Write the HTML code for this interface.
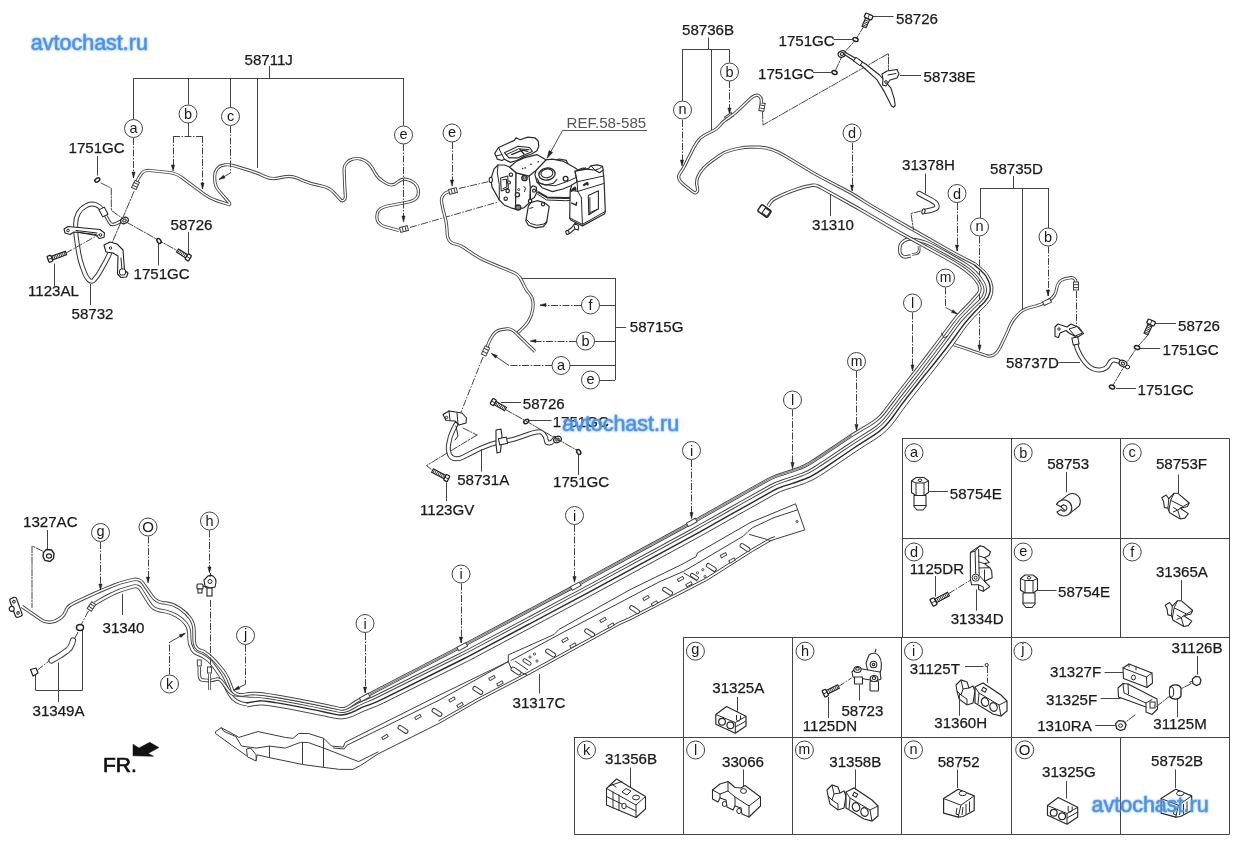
<!DOCTYPE html>
<html><head><meta charset="utf-8"><title>diagram</title>
<style>
html,body{margin:0;padding:0;background:#fff;}
body{width:1240px;height:848px;overflow:hidden;font-family:"Liberation Sans",sans-serif;}
svg{display:block;font-family:"Liberation Sans",sans-serif;}
.wm{fill:#4a8edc;font-size:21.5px;}
</style></head><body>
<svg width="1240" height="848" viewBox="0 0 1240 848">
<defs><filter id="gl" x="-10%" y="-30%" width="120%" height="160%"><feGaussianBlur stdDeviation="1.2"/></filter></defs>
<rect width="1240" height="848" fill="#fff"/>
<g style="will-change:transform">
<line x1="902" y1="438.5" x2="1229.5" y2="438.5" stroke="#444" stroke-width="1" />
<line x1="902" y1="538.5" x2="1229.5" y2="538.5" stroke="#444" stroke-width="1" />
<line x1="902" y1="637.5" x2="1229.5" y2="637.5" stroke="#444" stroke-width="1" />
<line x1="683" y1="637.5" x2="902" y2="637.5" stroke="#444" stroke-width="1" />
<line x1="574" y1="737.5" x2="1229.5" y2="737.5" stroke="#444" stroke-width="1" />
<line x1="574" y1="834.5" x2="1229.5" y2="834.5" stroke="#444" stroke-width="1" />
<line x1="902.5" y1="438.5" x2="902.5" y2="637.5" stroke="#444" stroke-width="1" />
<line x1="1011.5" y1="438.5" x2="1011.5" y2="834.5" stroke="#444" stroke-width="1" />
<line x1="1120.5" y1="438.5" x2="1120.5" y2="637.5" stroke="#444" stroke-width="1" />
<line x1="1120.5" y1="737" x2="1120.5" y2="834.5" stroke="#444" stroke-width="1" />
<line x1="1229.5" y1="438.5" x2="1229.5" y2="834.5" stroke="#444" stroke-width="1" />
<line x1="683.5" y1="637.5" x2="683.5" y2="834.5" stroke="#444" stroke-width="1" />
<line x1="792.5" y1="637.5" x2="792.5" y2="834.5" stroke="#444" stroke-width="1" />
<line x1="901.5" y1="637.5" x2="901.5" y2="834.5" stroke="#444" stroke-width="1" />
<line x1="574.5" y1="737" x2="574.5" y2="834.5" stroke="#444" stroke-width="1" />
<line x1="133.5" y1="78.5" x2="403.5" y2="78.5" stroke="#444" stroke-width="1" />
<line x1="269.5" y1="66" x2="269.5" y2="78" stroke="#444" stroke-width="1" />
<line x1="133.5" y1="78" x2="133.5" y2="119" stroke="#444" stroke-width="1" />
<line x1="188.5" y1="78" x2="188.5" y2="104.5" stroke="#444" stroke-width="1" />
<line x1="230.5" y1="78" x2="230.5" y2="107.5" stroke="#444" stroke-width="1" />
<line x1="257.5" y1="78" x2="257.5" y2="168" stroke="#444" stroke-width="1" />
<line x1="403.5" y1="78" x2="403.5" y2="125.5" stroke="#444" stroke-width="1" />
<path d="M136.5 183.0 L137.4 180.5 Q138.4 178.0 140.0 175.8 L142.0 173.0 Q143.3 171.2 145.5 170.8 L145.5 170.8 Q147.7 170.3 149.9 170.5 L169.0 172.5 Q176.0 173.2 181.6 177.4 L204.3 194.3 Q209.9 198.5 216.6 200.6 L228.8 204.5 Q229.4 204.7 229.6 204.1 L229.6 204.1 Q229.8 203.4 229.4 202.9 L219.3 191.3 Q214.7 186.0 214.7 179.0 L214.7 176.0 Q214.7 172.0 217.1 168.8 L217.1 168.8 Q219.6 165.6 223.6 165.1 L224.5 164.9 Q229.4 164.3 234.1 165.8 L250.8 170.9 Q257.5 173.0 263.8 176.0 L264.7 176.5 Q271.0 179.5 277.9 178.1 L284.1 176.9 Q291.0 175.5 297.5 178.2 L303.5 180.8 Q310.0 183.5 316.8 184.9 L322.6 186.2 Q329.0 187.5 333.5 192.2 L335.9 194.8 Q338.0 197.0 340.0 199.2 L340.6 199.9 Q342.0 201.5 343.8 200.2 L343.8 200.2 Q345.5 199.0 345.4 196.9 L344.9 189.0 Q344.5 182.0 344.3 175.0 L344.1 169.9 Q344.0 166.0 346.5 163.0 L346.5 163.0 Q349.0 160.0 352.8 159.1 L353.0 159.0 Q357.0 158.0 361.0 159.1 L361.7 159.3 Q366.0 160.5 369.0 163.8 L369.0 163.8 Q372.0 167.0 374.0 171.0 L374.8 172.5 Q377.5 178.0 382.8 181.2 L386.6 183.5 Q392.5 187.0 397.5 182.2 L397.6 182.1 Q402.5 177.5 408.8 180.0 L411.1 180.9 Q415.0 182.5 417.0 186.2 L417.1 186.4 Q419.0 190.0 418.2 194.0 L418.2 194.4 Q417.5 198.0 414.2 199.8 L414.2 199.8 Q411.0 201.5 407.4 202.2 L386.3 206.3 Q383.0 207.0 380.2 209.0 L380.2 209.0 Q377.5 211.0 377.1 214.4 L376.9 216.5 Q376.5 220.0 378.8 222.8 L378.8 222.8 Q381.0 225.5 384.4 226.5 L399.0 230.5" fill="none" stroke="#444" stroke-width="3.2" stroke-linejoin="round" stroke-linecap="butt"/>
<path d="M136.5 183.0 L137.4 180.5 Q138.4 178.0 140.0 175.8 L142.0 173.0 Q143.3 171.2 145.5 170.8 L145.5 170.8 Q147.7 170.3 149.9 170.5 L169.0 172.5 Q176.0 173.2 181.6 177.4 L204.3 194.3 Q209.9 198.5 216.6 200.6 L228.8 204.5 Q229.4 204.7 229.6 204.1 L229.6 204.1 Q229.8 203.4 229.4 202.9 L219.3 191.3 Q214.7 186.0 214.7 179.0 L214.7 176.0 Q214.7 172.0 217.1 168.8 L217.1 168.8 Q219.6 165.6 223.6 165.1 L224.5 164.9 Q229.4 164.3 234.1 165.8 L250.8 170.9 Q257.5 173.0 263.8 176.0 L264.7 176.5 Q271.0 179.5 277.9 178.1 L284.1 176.9 Q291.0 175.5 297.5 178.2 L303.5 180.8 Q310.0 183.5 316.8 184.9 L322.6 186.2 Q329.0 187.5 333.5 192.2 L335.9 194.8 Q338.0 197.0 340.0 199.2 L340.6 199.9 Q342.0 201.5 343.8 200.2 L343.8 200.2 Q345.5 199.0 345.4 196.9 L344.9 189.0 Q344.5 182.0 344.3 175.0 L344.1 169.9 Q344.0 166.0 346.5 163.0 L346.5 163.0 Q349.0 160.0 352.8 159.1 L353.0 159.0 Q357.0 158.0 361.0 159.1 L361.7 159.3 Q366.0 160.5 369.0 163.8 L369.0 163.8 Q372.0 167.0 374.0 171.0 L374.8 172.5 Q377.5 178.0 382.8 181.2 L386.6 183.5 Q392.5 187.0 397.5 182.2 L397.6 182.1 Q402.5 177.5 408.8 180.0 L411.1 180.9 Q415.0 182.5 417.0 186.2 L417.1 186.4 Q419.0 190.0 418.2 194.0 L418.2 194.4 Q417.5 198.0 414.2 199.8 L414.2 199.8 Q411.0 201.5 407.4 202.2 L386.3 206.3 Q383.0 207.0 380.2 209.0 L380.2 209.0 Q377.5 211.0 377.1 214.4 L376.9 216.5 Q376.5 220.0 378.8 222.8 L378.8 222.8 Q381.0 225.5 384.4 226.5 L399.0 230.5" fill="none" stroke="#fff" stroke-width="1.4" stroke-linejoin="round" stroke-linecap="butt"/>
<g transform="translate(135.5 185) rotate(-65)"><rect x="-4.0" y="-2.5" width="8" height="5" fill="#fff" stroke="#444" stroke-width="1"/><line x1="-1.3333333333333333" y1="-2.5" x2="-1.3333333333333333" y2="2.5" stroke="#444"/><line x1="1.6" y1="-2.5" x2="1.6" y2="2.5" stroke="#444"/></g>
<g transform="translate(404 229) rotate(-15)"><rect x="-4.0" y="-2.5" width="8" height="5" fill="#fff" stroke="#444" stroke-width="1"/><line x1="-1.3333333333333333" y1="-2.5" x2="-1.3333333333333333" y2="2.5" stroke="#444"/><line x1="1.6" y1="-2.5" x2="1.6" y2="2.5" stroke="#444"/></g>
<line x1="133.5" y1="138" x2="133.5" y2="178" stroke="#444" stroke-width="1" stroke-dasharray="7 1.5 1.5 1.5"/>
<polygon points="133.5,178.0 131.9,172.0 135.1,172.0" fill="#222" stroke="#222" stroke-width="0.5" stroke-linejoin="round" />
<circle cx="133.5" cy="128.5" r="9.0" fill="#fff" stroke="#444" stroke-width="1"/>
<text x="133.5" y="132.7" font-size="14.5" fill="#1a1a1a" text-anchor="middle">a</text>
<line x1="188.5" y1="123" x2="188.5" y2="136" stroke="#444" stroke-width="1" />
<line x1="173" y1="136.5" x2="202.5" y2="136.5" stroke="#444" stroke-width="1" stroke-dasharray="7 1.5 1.5 1.5"/>
<line x1="173.5" y1="136" x2="173.5" y2="171" stroke="#444" stroke-width="1" stroke-dasharray="7 1.5 1.5 1.5"/>
<polygon points="173.0,171.0 171.4,165.0 174.6,165.0" fill="#222" stroke="#222" stroke-width="0.5" stroke-linejoin="round" />
<line x1="202.5" y1="136" x2="202.5" y2="189" stroke="#444" stroke-width="1" stroke-dasharray="7 1.5 1.5 1.5"/>
<polygon points="202.5,189.0 200.9,183.0 204.1,183.0" fill="#222" stroke="#222" stroke-width="0.5" stroke-linejoin="round" />
<circle cx="188" cy="114" r="9.0" fill="#fff" stroke="#444" stroke-width="1"/>
<text x="188" y="119" font-size="14.5" fill="#1a1a1a" text-anchor="middle">b</text>
<line x1="230.5" y1="126" x2="230.5" y2="173" stroke="#444" stroke-width="1" stroke-dasharray="7 1.5 1.5 1.5"/>
<line x1="230.5" y1="173" x2="219" y2="179.5" stroke="#444" stroke-width="1" />
<polygon points="219.0,179.5 223.4,175.2 225.0,177.9" fill="#222" stroke="#222" stroke-width="0.5" stroke-linejoin="round" />
<circle cx="230.5" cy="116.5" r="9.0" fill="#fff" stroke="#444" stroke-width="1"/>
<text x="230.5" y="120.7" font-size="14.5" fill="#1a1a1a" text-anchor="middle">c</text>
<line x1="403.5" y1="144" x2="403.5" y2="222" stroke="#444" stroke-width="1" stroke-dasharray="7 1.5 1.5 1.5"/>
<polygon points="403.5,222.0 401.9,216.0 405.1,216.0" fill="#222" stroke="#222" stroke-width="0.5" stroke-linejoin="round" />
<circle cx="403.5" cy="135" r="9.0" fill="#fff" stroke="#444" stroke-width="1"/>
<text x="403.5" y="139.2" font-size="14.5" fill="#1a1a1a" text-anchor="middle">e</text>
<line x1="452.5" y1="142" x2="452.5" y2="186" stroke="#444" stroke-width="1" stroke-dasharray="7 1.5 1.5 1.5"/>
<polygon points="452.0,186.0 450.4,180.0 453.6,180.0" fill="#222" stroke="#222" stroke-width="0.5" stroke-linejoin="round" />
<circle cx="452" cy="133" r="9.0" fill="#fff" stroke="#444" stroke-width="1"/>
<text x="452" y="137.2" font-size="14.5" fill="#1a1a1a" text-anchor="middle">e</text>
<line x1="562.5" y1="130.5" x2="647" y2="130.5" stroke="#555" stroke-width="1" />
<line x1="562.5" y1="130.5" x2="549" y2="155" stroke="#555" stroke-width="1" />
<polygon points="547.0,158.5 549.1,150.5 552.6,152.5" fill="#222" stroke="#222" stroke-width="0.5" stroke-linejoin="round" />
<line x1="410" y1="227.5" x2="498" y2="202" stroke="#444" stroke-width="1" stroke-dasharray="7 1.5 1.5 1.5"/>
<line x1="459" y1="188.5" x2="491" y2="181" stroke="#444" stroke-width="1" stroke-dasharray="7 1.5 1.5 1.5"/>
<path d="M449.0 191.5 L446.5 192.5 Q444.0 193.5 442.7 195.9 L442.5 196.2 Q441.0 199.0 441.6 202.1 L442.0 204.5 Q443.0 210.0 444.6 215.4 L444.8 216.0 Q446.5 222.0 446.9 228.2 L447.3 235.0 Q447.5 238.0 449.2 240.5 L449.2 240.5 Q451.0 243.0 454.0 243.7 L455.5 244.0 Q460.0 245.0 463.8 247.6 L474.2 254.6 Q480.0 258.5 486.4 261.2 L493.6 264.3 Q500.0 267.0 506.5 269.6 L513.6 272.5 Q517.5 274.0 519.8 277.5 L519.8 277.5 Q522.0 281.0 523.7 284.8 L524.1 285.6 Q526.0 290.0 529.2 293.5 L529.2 293.5 Q532.5 297.0 532.9 301.8 L533.0 302.5 Q533.5 308.0 531.8 313.3 L531.3 314.9 Q530.0 319.0 527.5 322.5 L527.5 322.5 Q525.0 326.0 521.9 328.9 L517.5 333.0" fill="none" stroke="#444" stroke-width="3.2" stroke-linejoin="round" stroke-linecap="butt"/>
<path d="M449.0 191.5 L446.5 192.5 Q444.0 193.5 442.7 195.9 L442.5 196.2 Q441.0 199.0 441.6 202.1 L442.0 204.5 Q443.0 210.0 444.6 215.4 L444.8 216.0 Q446.5 222.0 446.9 228.2 L447.3 235.0 Q447.5 238.0 449.2 240.5 L449.2 240.5 Q451.0 243.0 454.0 243.7 L455.5 244.0 Q460.0 245.0 463.8 247.6 L474.2 254.6 Q480.0 258.5 486.4 261.2 L493.6 264.3 Q500.0 267.0 506.5 269.6 L513.6 272.5 Q517.5 274.0 519.8 277.5 L519.8 277.5 Q522.0 281.0 523.7 284.8 L524.1 285.6 Q526.0 290.0 529.2 293.5 L529.2 293.5 Q532.5 297.0 532.9 301.8 L533.0 302.5 Q533.5 308.0 531.8 313.3 L531.3 314.9 Q530.0 319.0 527.5 322.5 L527.5 322.5 Q525.0 326.0 521.9 328.9 L517.5 333.0" fill="none" stroke="#fff" stroke-width="1.4" stroke-linejoin="round" stroke-linecap="butt"/>
<path d="M535.0 351.5 L525.6 342.4 Q522.0 339.0 518.5 335.5 L517.2 334.2 Q515.0 332.0 512.5 330.2 L512.5 330.2 Q510.0 328.5 507.0 328.9 L501.3 329.6 Q498.0 330.0 495.5 332.2 L495.5 332.2 Q493.0 334.5 491.4 337.5 L490.5 339.1 Q489.0 342.0 487.8 345.0 L486.5 348.0" fill="none" stroke="#444" stroke-width="3.2" stroke-linejoin="round" stroke-linecap="butt"/>
<path d="M535.0 351.5 L525.6 342.4 Q522.0 339.0 518.5 335.5 L517.2 334.2 Q515.0 332.0 512.5 330.2 L512.5 330.2 Q510.0 328.5 507.0 328.9 L501.3 329.6 Q498.0 330.0 495.5 332.2 L495.5 332.2 Q493.0 334.5 491.4 337.5 L490.5 339.1 Q489.0 342.0 487.8 345.0 L486.5 348.0" fill="none" stroke="#fff" stroke-width="1.4" stroke-linejoin="round" stroke-linecap="butt"/>
<g transform="translate(453 191) rotate(-15)"><rect x="-4.0" y="-2.5" width="8" height="5" fill="#fff" stroke="#444" stroke-width="1"/><line x1="-1.3333333333333333" y1="-2.5" x2="-1.3333333333333333" y2="2.5" stroke="#444"/><line x1="1.6" y1="-2.5" x2="1.6" y2="2.5" stroke="#444"/></g>
<g transform="translate(485.5 351) rotate(-65)"><rect x="-4.5" y="-2.5" width="9" height="5" fill="#fff" stroke="#444" stroke-width="1"/><line x1="-1.5" y1="-2.5" x2="-1.5" y2="2.5" stroke="#444"/><line x1="1.8" y1="-2.5" x2="1.8" y2="2.5" stroke="#444"/></g>
<line x1="522" y1="278.5" x2="615" y2="278.5" stroke="#444" stroke-width="1" />
<line x1="615.5" y1="278" x2="615.5" y2="380" stroke="#444" stroke-width="1" />
<line x1="615" y1="327.5" x2="626" y2="327.5" stroke="#444" stroke-width="1" />
<line x1="600" y1="305.5" x2="615" y2="305.5" stroke="#444" stroke-width="1" />
<line x1="581" y1="305.5" x2="540" y2="305.5" stroke="#444" stroke-width="1" stroke-dasharray="7 1.5 1.5 1.5"/>
<polygon points="540.0,305.0 546.0,303.4 546.0,306.6" fill="#222" stroke="#222" stroke-width="0.5" stroke-linejoin="round" />
<circle cx="590.5" cy="305" r="9.0" fill="#fff" stroke="#444" stroke-width="1"/>
<text x="590.5" y="310" font-size="14.5" fill="#1a1a1a" text-anchor="middle">f</text>
<line x1="595" y1="341.5" x2="615" y2="341.5" stroke="#444" stroke-width="1" />
<line x1="576" y1="341.5" x2="530" y2="341.5" stroke="#444" stroke-width="1" stroke-dasharray="7 1.5 1.5 1.5"/>
<polygon points="530.0,341.0 536.0,339.4 536.0,342.6" fill="#222" stroke="#222" stroke-width="0.5" stroke-linejoin="round" />
<circle cx="585.5" cy="341" r="9.0" fill="#fff" stroke="#444" stroke-width="1"/>
<text x="585.5" y="346" font-size="14.5" fill="#1a1a1a" text-anchor="middle">b</text>
<line x1="570" y1="365.5" x2="615" y2="365.5" stroke="#444" stroke-width="1" />
<line x1="552" y1="365.5" x2="509" y2="365.5" stroke="#444" stroke-width="1" stroke-dasharray="7 1.5 1.5 1.5"/>
<line x1="509" y1="365.5" x2="491.5" y2="353.5" stroke="#444" stroke-width="1" />
<polygon points="491.5,353.5 497.4,355.6 495.5,358.2" fill="#222" stroke="#222" stroke-width="0.5" stroke-linejoin="round" />
<circle cx="561" cy="365.5" r="9.0" fill="#fff" stroke="#444" stroke-width="1"/>
<text x="561" y="369.7" font-size="14.5" fill="#1a1a1a" text-anchor="middle">a</text>
<line x1="600" y1="380.5" x2="615" y2="380.5" stroke="#444" stroke-width="1" />
<circle cx="590.5" cy="380" r="9.0" fill="#fff" stroke="#444" stroke-width="1"/>
<text x="590.5" y="384.2" font-size="14.5" fill="#1a1a1a" text-anchor="middle">e</text>
<line x1="483" y1="357" x2="460.5" y2="413.5" stroke="#444" stroke-width="1" stroke-dasharray="7 1.5 1.5 1.5"/>
<line x1="708.5" y1="37.5" x2="708.5" y2="49.5" stroke="#444" stroke-width="1" />
<line x1="682" y1="49.5" x2="729.5" y2="49.5" stroke="#444" stroke-width="1" />
<line x1="682.5" y1="49.5" x2="682.5" y2="101" stroke="#444" stroke-width="1" />
<line x1="711.5" y1="49.5" x2="711.5" y2="130" stroke="#444" stroke-width="1" />
<line x1="729.5" y1="49.5" x2="729.5" y2="62.5" stroke="#444" stroke-width="1" />
<line x1="682.5" y1="120" x2="682.5" y2="166" stroke="#444" stroke-width="1" stroke-dasharray="7 1.5 1.5 1.5"/>
<polygon points="682.0,166.0 680.4,160.0 683.6,160.0" fill="#222" stroke="#222" stroke-width="0.5" stroke-linejoin="round" />
<circle cx="682.5" cy="110" r="9.0" fill="#fff" stroke="#444" stroke-width="1"/>
<text x="682.5" y="114.2" font-size="14.5" fill="#1a1a1a" text-anchor="middle">n</text>
<line x1="729.5" y1="81" x2="729.5" y2="114" stroke="#444" stroke-width="1" stroke-dasharray="7 1.5 1.5 1.5"/>
<polygon points="729.5,114.0 727.9,108.0 731.1,108.0" fill="#222" stroke="#222" stroke-width="0.5" stroke-linejoin="round" />
<circle cx="729.5" cy="72" r="9.0" fill="#fff" stroke="#444" stroke-width="1"/>
<text x="729.5" y="77" font-size="14.5" fill="#1a1a1a" text-anchor="middle">b</text>
<g transform="translate(762 107) rotate(-80)"><rect x="-4.0" y="-2.5" width="8" height="5" fill="#fff" stroke="#444" stroke-width="1"/><line x1="-1.3333333333333333" y1="-2.5" x2="-1.3333333333333333" y2="2.5" stroke="#444"/><line x1="1.6" y1="-2.5" x2="1.6" y2="2.5" stroke="#444"/></g>
<rect x="725" y="114.5" width="8" height="4" fill="#fff" stroke="#444" transform="rotate(-35 729 116.5)"/>
<polyline points="762.5,112.0 763.0,125.0 888.5,53.5 888.5,73.0" fill="none" stroke="#444" stroke-width="1" stroke-linejoin="round" stroke-linecap="round" stroke-dasharray="7 1.5 1.5 1.5"/>
<line x1="872.5" y1="16.5" x2="893.5" y2="16.5" stroke="#444" stroke-width="1" />
<line x1="833.5" y1="39.5" x2="852" y2="39.5" stroke="#444" stroke-width="1" />
<line x1="813" y1="72.5" x2="831" y2="72.5" stroke="#444" stroke-width="1" />
<line x1="900" y1="75.5" x2="921" y2="75.5" stroke="#444" stroke-width="1" />
<polyline points="864.0,26.0 855.5,40.0 843.0,54.0 834.5,72.5" fill="none" stroke="#444" stroke-width="1" stroke-linejoin="round" stroke-linecap="round" stroke-dasharray="7 1.5 1.5 1.5"/>
<line x1="830.5" y1="195" x2="830.5" y2="216" stroke="#444" stroke-width="1" />
<line x1="852.5" y1="143" x2="852.5" y2="191" stroke="#444" stroke-width="1" stroke-dasharray="7 1.5 1.5 1.5"/>
<polygon points="852.0,191.0 850.4,185.0 853.6,185.0" fill="#222" stroke="#222" stroke-width="0.5" stroke-linejoin="round" />
<circle cx="852" cy="133" r="9.0" fill="#fff" stroke="#444" stroke-width="1"/>
<text x="852" y="138" font-size="14.5" fill="#1a1a1a" text-anchor="middle">d</text>
<line x1="925.5" y1="173.5" x2="925.5" y2="193.5" stroke="#444" stroke-width="1" />
<line x1="957.5" y1="203" x2="957.5" y2="251" stroke="#444" stroke-width="1" stroke-dasharray="7 1.5 1.5 1.5"/>
<polygon points="957.0,251.0 955.4,245.0 958.6,245.0" fill="#222" stroke="#222" stroke-width="0.5" stroke-linejoin="round" />
<circle cx="957" cy="193.5" r="9.0" fill="#fff" stroke="#444" stroke-width="1"/>
<text x="957" y="198.5" font-size="14.5" fill="#1a1a1a" text-anchor="middle">d</text>
<line x1="1013.5" y1="176" x2="1013.5" y2="188" stroke="#444" stroke-width="1" />
<line x1="980" y1="188.5" x2="1048" y2="188.5" stroke="#444" stroke-width="1" />
<line x1="980.5" y1="188" x2="980.5" y2="218" stroke="#444" stroke-width="1" />
<line x1="1022.5" y1="188" x2="1022.5" y2="309" stroke="#444" stroke-width="1" />
<line x1="1048.5" y1="188" x2="1048.5" y2="228" stroke="#444" stroke-width="1" />
<line x1="979.5" y1="236.5" x2="979.5" y2="351" stroke="#444" stroke-width="1" stroke-dasharray="7 1.5 1.5 1.5"/>
<polygon points="979.5,351.0 977.9,345.0 981.1,345.0" fill="#222" stroke="#222" stroke-width="0.5" stroke-linejoin="round" />
<circle cx="979.5" cy="227" r="9.0" fill="#fff" stroke="#444" stroke-width="1"/>
<text x="979.5" y="231.2" font-size="14.5" fill="#1a1a1a" text-anchor="middle">n</text>
<line x1="1048.5" y1="246.5" x2="1048.5" y2="296" stroke="#444" stroke-width="1" stroke-dasharray="7 1.5 1.5 1.5"/>
<polygon points="1048.0,296.0 1046.4,290.0 1049.6,290.0" fill="#222" stroke="#222" stroke-width="0.5" stroke-linejoin="round" />
<circle cx="1048" cy="237" r="9.0" fill="#fff" stroke="#444" stroke-width="1"/>
<text x="1048" y="242" font-size="14.5" fill="#1a1a1a" text-anchor="middle">b</text>
<line x1="945.5" y1="287.5" x2="945.5" y2="307.5" stroke="#444" stroke-width="1" stroke-dasharray="7 1.5 1.5 1.5"/>
<line x1="945.5" y1="307.5" x2="957.5" y2="314" stroke="#444" stroke-width="1" />
<polygon points="957.5,314.0 951.5,312.5 953.0,309.7" fill="#222" stroke="#222" stroke-width="0.5" stroke-linejoin="round" />
<circle cx="945.5" cy="278" r="9.0" fill="#fff" stroke="#444" stroke-width="1"/>
<text x="945.5" y="282.2" font-size="14" fill="#1a1a1a" text-anchor="middle">m</text>
<path d="M953.5 344.5 L965.0 348.3 Q970.0 350.0 975.0 351.8 L975.0 351.8 Q980.0 353.5 985.0 355.2 L985.9 355.6 Q990.0 357.0 993.8 354.8 L993.8 354.8 Q997.5 352.5 999.5 348.6 L1001.9 343.8 Q1005.0 337.5 1007.8 331.1 L1009.7 326.4 Q1012.5 320.0 1017.4 315.1 L1019.7 312.8 Q1022.5 310.0 1026.2 308.8 L1026.2 308.8 Q1030.0 307.5 1033.8 306.5 L1035.0 306.2 Q1040.0 305.0 1044.6 302.7 L1046.8 301.6 Q1050.0 300.0 1052.5 297.5 L1052.5 297.5 Q1055.0 295.0 1055.9 291.6 L1056.9 287.3 Q1057.5 285.0 1058.8 283.0 L1058.8 283.0 Q1060.0 281.0 1062.1 279.9 L1062.5 279.8 Q1065.0 278.5 1067.8 278.2 L1071.1 277.7 Q1073.0 277.5 1074.5 278.8 L1074.5 278.8 Q1076.0 280.0 1076.0 282.0 L1076.0 288.0" fill="none" stroke="#444" stroke-width="3.2" stroke-linejoin="round" stroke-linecap="butt"/>
<path d="M953.5 344.5 L965.0 348.3 Q970.0 350.0 975.0 351.8 L975.0 351.8 Q980.0 353.5 985.0 355.2 L985.9 355.6 Q990.0 357.0 993.8 354.8 L993.8 354.8 Q997.5 352.5 999.5 348.6 L1001.9 343.8 Q1005.0 337.5 1007.8 331.1 L1009.7 326.4 Q1012.5 320.0 1017.4 315.1 L1019.7 312.8 Q1022.5 310.0 1026.2 308.8 L1026.2 308.8 Q1030.0 307.5 1033.8 306.5 L1035.0 306.2 Q1040.0 305.0 1044.6 302.7 L1046.8 301.6 Q1050.0 300.0 1052.5 297.5 L1052.5 297.5 Q1055.0 295.0 1055.9 291.6 L1056.9 287.3 Q1057.5 285.0 1058.8 283.0 L1058.8 283.0 Q1060.0 281.0 1062.1 279.9 L1062.5 279.8 Q1065.0 278.5 1067.8 278.2 L1071.1 277.7 Q1073.0 277.5 1074.5 278.8 L1074.5 278.8 Q1076.0 280.0 1076.0 282.0 L1076.0 288.0" fill="none" stroke="#fff" stroke-width="1.4" stroke-linejoin="round" stroke-linecap="butt"/>
<g transform="translate(1076 286) rotate(90)"><rect x="-4.0" y="-2.5" width="8" height="5" fill="#fff" stroke="#444" stroke-width="1"/><line x1="-1.3333333333333333" y1="-2.5" x2="-1.3333333333333333" y2="2.5" stroke="#444"/><line x1="1.6" y1="-2.5" x2="1.6" y2="2.5" stroke="#444"/></g>
<rect x="1043" y="300" width="8" height="4" fill="#fff" stroke="#444" transform="rotate(-25 1047 302)"/>
<line x1="1076.5" y1="291" x2="1076.5" y2="326" stroke="#444" stroke-width="1" stroke-dasharray="7 1.5 1.5 1.5"/>
<line x1="1058.5" y1="362.5" x2="1080" y2="362.5" stroke="#444" stroke-width="1" />
<line x1="1155" y1="323.5" x2="1176" y2="323.5" stroke="#444" stroke-width="1" />
<line x1="1140" y1="348.5" x2="1160" y2="348.5" stroke="#444" stroke-width="1" />
<line x1="1116" y1="388.5" x2="1136" y2="388.5" stroke="#444" stroke-width="1" />
<polyline points="1148.0,335.0 1137.0,347.5 1125.0,365.0 1112.0,387.0" fill="none" stroke="#444" stroke-width="1" stroke-linejoin="round" stroke-linecap="round" stroke-dasharray="7 1.5 1.5 1.5"/>
<path d="M761.5 103.0 L761.2 99.4 Q761.0 97.0 759.0 95.8 L759.0 95.8 Q757.0 94.5 754.9 95.6 L754.5 95.8 Q752.0 97.0 750.0 98.9 L740.0 108.6 Q735.0 113.5 729.2 117.4 L725.9 119.7 Q722.5 122.0 720.0 125.2 L720.0 125.2 Q717.5 128.5 713.9 130.4 L705.0 134.9 Q700.0 137.5 697.0 142.2 L697.0 142.2 Q694.0 147.0 691.5 152.0 L689.2 156.5 Q687.0 161.0 684.8 165.5 L684.2 166.6 Q682.5 170.0 680.2 173.0 L679.8 173.7 Q678.0 176.0 679.0 178.8 L679.0 178.8 Q680.0 181.5 682.3 183.3 L684.5 185.2 Q688.0 188.0 691.5 190.8 L693.5 192.3 Q695.0 193.5 696.5 192.2 L696.5 192.2 Q698.0 191.0 697.6 189.1 L697.0 185.8 Q696.0 181.0 698.0 176.5 L698.0 176.5 Q700.0 172.0 703.4 168.4 L703.8 168.0 Q707.5 164.0 712.0 160.8 L719.3 155.6 Q725.0 151.5 731.8 150.0 L738.2 148.5 Q745.0 147.0 752.0 147.1 L759.0 147.2 Q766.0 147.3 772.5 149.8 L772.5 149.8 Q779.0 152.3 785.0 155.9 L812.0 172.1 Q818.0 175.7 824.2 178.9 L845.4 190.0 Q851.6 193.2 857.5 197.0 L863.9 201.1 Q869.8 204.9 875.9 208.4 L893.9 218.9 Q900.0 222.4 906.1 225.8 L950.6 251.1 Q956.7 254.5 962.9 257.7 L975.0 264.0" fill="none" stroke="#444" stroke-width="3.3" stroke-linejoin="round" stroke-linecap="butt"/>
<path d="M761.5 103.0 L761.2 99.4 Q761.0 97.0 759.0 95.8 L759.0 95.8 Q757.0 94.5 754.9 95.6 L754.5 95.8 Q752.0 97.0 750.0 98.9 L740.0 108.6 Q735.0 113.5 729.2 117.4 L725.9 119.7 Q722.5 122.0 720.0 125.2 L720.0 125.2 Q717.5 128.5 713.9 130.4 L705.0 134.9 Q700.0 137.5 697.0 142.2 L697.0 142.2 Q694.0 147.0 691.5 152.0 L689.2 156.5 Q687.0 161.0 684.8 165.5 L684.2 166.6 Q682.5 170.0 680.2 173.0 L679.8 173.7 Q678.0 176.0 679.0 178.8 L679.0 178.8 Q680.0 181.5 682.3 183.3 L684.5 185.2 Q688.0 188.0 691.5 190.8 L693.5 192.3 Q695.0 193.5 696.5 192.2 L696.5 192.2 Q698.0 191.0 697.6 189.1 L697.0 185.8 Q696.0 181.0 698.0 176.5 L698.0 176.5 Q700.0 172.0 703.4 168.4 L703.8 168.0 Q707.5 164.0 712.0 160.8 L719.3 155.6 Q725.0 151.5 731.8 150.0 L738.2 148.5 Q745.0 147.0 752.0 147.1 L759.0 147.2 Q766.0 147.3 772.5 149.8 L772.5 149.8 Q779.0 152.3 785.0 155.9 L812.0 172.1 Q818.0 175.7 824.2 178.9 L845.4 190.0 Q851.6 193.2 857.5 197.0 L863.9 201.1 Q869.8 204.9 875.9 208.4 L893.9 218.9 Q900.0 222.4 906.1 225.8 L950.6 251.1 Q956.7 254.5 962.9 257.7 L975.0 264.0" fill="none" stroke="#fff" stroke-width="1.4" stroke-linejoin="round" stroke-linecap="butt"/>
<path d="M261.3 702.3 L252.3 704.0 Q246.7 705.0 241.3 703.2 L239.9 702.7 Q236.0 701.4 233.1 698.5 L233.1 698.5 Q230.2 695.5 228.3 691.8 L227.8 690.8 Q225.4 686.0 223.2 681.1 L223.1 680.7 Q220.7 675.4 217.2 670.8 L212.2 664.0 Q209.2 660.0 204.9 657.5 L203.6 656.6 Q200.7 654.9 197.5 653.8 L197.5 653.8 Q194.3 652.8 192.6 649.9 L191.9 648.5 Q189.5 644.3 189.4 639.4 L189.2 632.9 Q189.0 627.3 185.3 623.0 L185.3 623.0 Q181.6 618.8 176.8 615.9 L176.3 615.6 Q171.0 612.5 164.9 611.4 L159.8 610.5 Q152.9 609.3 149.3 603.3 L140.6 589.2 Q139.6 587.5 137.8 586.7 L137.8 586.7 Q135.9 585.9 134.0 586.4 L126.8 588.4 Q120.0 590.2 113.7 593.3 L110.2 594.9 Q105.0 597.5 100.0 600.5 L95.0 603.5" fill="none" stroke="#444" stroke-width="4.0" stroke-linejoin="round" stroke-linecap="butt"/>
<path d="M261.3 702.3 L252.3 704.0 Q246.7 705.0 241.3 703.2 L239.9 702.7 Q236.0 701.4 233.1 698.5 L233.1 698.5 Q230.2 695.5 228.3 691.8 L227.8 690.8 Q225.4 686.0 223.2 681.1 L223.1 680.7 Q220.7 675.4 217.2 670.8 L212.2 664.0 Q209.2 660.0 204.9 657.5 L203.6 656.6 Q200.7 654.9 197.5 653.8 L197.5 653.8 Q194.3 652.8 192.6 649.9 L191.9 648.5 Q189.5 644.3 189.4 639.4 L189.2 632.9 Q189.0 627.3 185.3 623.0 L185.3 623.0 Q181.6 618.8 176.8 615.9 L176.3 615.6 Q171.0 612.5 164.9 611.4 L159.8 610.5 Q152.9 609.3 149.3 603.3 L140.6 589.2 Q139.6 587.5 137.8 586.7 L137.8 586.7 Q135.9 585.9 134.0 586.4 L126.8 588.4 Q120.0 590.2 113.7 593.3 L110.2 594.9 Q105.0 597.5 100.0 600.5 L95.0 603.5" fill="none" stroke="#fff" stroke-width="2.2" stroke-linejoin="round" stroke-linecap="butt"/>
<path d="M975.7 263.1 L982.6 268.8 Q988.0 273.2 990.8 279.6 L991.3 280.7 Q994.0 286.8 992.7 293.3 L992.7 293.3 Q991.4 299.9 986.6 304.5 L982.8 308.3 Q977.9 313.2 973.1 318.4 L971.8 319.9 Q967.0 325.1 963.1 330.8 L957.7 338.5 Q953.7 344.3 949.5 349.8 L938.7 363.8 Q934.4 369.3 930.1 374.8 L928.5 376.8 Q924.1 382.2 919.8 387.7 L911.2 398.6 Q906.9 404.1 902.8 409.8 L895.8 419.6 Q891.8 425.3 886.8 430.1 L886.8 430.1 Q881.8 435.0 876.0 438.7 L865.6 445.2 Q859.7 449.0 853.9 452.9 L830.8 468.5 Q825.0 472.5 819.1 476.2 L818.9 476.3 Q813.0 480.1 806.5 482.6 L804.8 483.3 Q798.3 485.8 791.6 487.8 L786.9 489.2 Q780.2 491.3 774.1 494.7 L749.9 508.3 Q743.8 511.7 737.7 515.1 L707.3 532.3 Q701.2 535.8 695.0 539.1 L589.7 596.3 Q583.5 599.7 577.3 602.9 L475.6 657.1 Q469.4 660.4 463.1 663.5 L383.7 702.9 Q377.4 706.0 370.8 708.4 L368.2 709.4 Q362.8 711.3 357.7 714.0 L357.7 714.0 Q352.7 716.7 347.1 718.1 L346.9 718.2 Q341.2 719.6 335.4 718.4 L324.5 716.1 Q317.6 714.7 310.7 713.3 L294.7 710.1 Q287.9 708.7 281.0 707.6 L268.1 705.5 Q261.2 704.3 254.3 705.6 L247.1 707.0 L246.3 703.0 L254.5 701.6 Q261.4 700.3 268.3 701.5 L281.7 703.6 Q288.6 704.8 295.4 706.1 L311.5 709.4 Q318.4 710.7 325.3 712.2 L336.5 714.6 Q341.4 715.6 346.3 714.3 L346.3 714.3 Q351.2 713.0 355.7 710.6 L356.2 710.3 Q361.2 707.6 366.5 705.7 L369.1 704.8 Q375.7 702.4 382.0 699.3 L461.3 660.0 Q467.5 656.9 473.7 653.6 L575.5 599.4 Q581.6 596.1 587.8 592.8 L693.1 535.6 Q699.2 532.3 705.3 528.8 L735.8 511.6 Q741.9 508.2 748.0 504.8 L772.4 491.1 Q778.5 487.7 785.2 485.6 L790.3 484.1 Q797.0 482.0 803.5 479.5 L804.9 479.0 Q811.3 476.5 817.0 472.8 L817.0 472.8 Q822.8 469.2 828.4 465.3 L851.7 449.5 Q857.4 445.6 863.4 441.9 L874.0 435.2 Q879.4 431.7 884.0 427.2 L884.0 427.2 Q888.6 422.7 892.4 417.5 L899.6 407.4 Q903.7 401.7 908.0 396.2 L916.7 385.3 Q921.0 379.8 925.4 374.3 L927.0 372.4 Q931.5 367.0 935.8 361.5 L946.7 347.7 Q951.0 342.2 955.0 336.5 L960.5 328.8 Q964.5 323.1 969.2 317.9 L970.8 316.2 Q975.6 311.0 980.5 306.1 L984.6 302.1 Q988.6 298.1 989.8 292.7 L989.8 292.7 Q991.0 287.2 988.9 282.0 L988.5 281.0 Q986.0 274.8 980.9 270.5 L974.3 264.9 Z" fill="#fff" stroke="none"/>
<path d="M975.7 263.1 L982.6 268.8 Q988.0 273.2 990.8 279.6 L991.3 280.7 Q994.0 286.8 992.7 293.3 L992.7 293.3 Q991.4 299.9 986.6 304.5 L982.8 308.3 Q977.9 313.2 973.1 318.4 L971.8 319.9 Q967.0 325.1 963.1 330.8 L957.7 338.5 Q953.7 344.3 949.5 349.8 L938.7 363.8 Q934.4 369.3 930.1 374.8 L928.5 376.8 Q924.1 382.2 919.8 387.7 L911.2 398.6 Q906.9 404.1 902.8 409.8 L895.8 419.6 Q891.8 425.3 886.8 430.1 L886.8 430.1 Q881.8 435.0 876.0 438.7 L865.6 445.2 Q859.7 449.0 853.9 452.9 L830.8 468.5 Q825.0 472.5 819.1 476.2 L818.9 476.3 Q813.0 480.1 806.5 482.6 L804.8 483.3 Q798.3 485.8 791.6 487.8 L786.9 489.2 Q780.2 491.3 774.1 494.7 L749.9 508.3 Q743.8 511.7 737.7 515.1 L707.3 532.3 Q701.2 535.8 695.0 539.1 L589.7 596.3 Q583.5 599.7 577.3 602.9 L475.6 657.1 Q469.4 660.4 463.1 663.5 L383.7 702.9 Q377.4 706.0 370.8 708.4 L368.2 709.4 Q362.8 711.3 357.7 714.0 L357.7 714.0 Q352.7 716.7 347.1 718.1 L346.9 718.2 Q341.2 719.6 335.4 718.4 L324.5 716.1 Q317.6 714.7 310.7 713.3 L294.7 710.1 Q287.9 708.7 281.0 707.6 L268.1 705.5 Q261.2 704.3 254.3 705.6 L247.1 707.0" fill="none" stroke="#444" stroke-width="1" stroke-linejoin="round"/>
<path d="M974.3 264.9 L980.9 270.5 Q986.0 274.8 988.5 281.0 L988.9 282.0 Q991.0 287.2 989.8 292.7 L989.8 292.7 Q988.6 298.1 984.6 302.1 L980.5 306.1 Q975.6 311.0 970.8 316.2 L969.2 317.9 Q964.5 323.1 960.5 328.8 L955.0 336.5 Q951.0 342.2 946.7 347.7 L935.8 361.5 Q931.5 367.0 927.0 372.4 L925.4 374.3 Q921.0 379.8 916.7 385.3 L908.0 396.2 Q903.7 401.7 899.6 407.4 L892.4 417.5 Q888.6 422.7 884.0 427.2 L884.0 427.2 Q879.4 431.7 874.0 435.2 L863.4 441.9 Q857.4 445.6 851.7 449.5 L828.4 465.3 Q822.8 469.2 817.0 472.8 L817.0 472.8 Q811.3 476.5 804.9 479.0 L803.5 479.5 Q797.0 482.0 790.3 484.1 L785.2 485.6 Q778.5 487.7 772.4 491.1 L748.0 504.8 Q741.9 508.2 735.8 511.6 L705.3 528.8 Q699.2 532.3 693.1 535.6 L587.8 592.8 Q581.6 596.1 575.5 599.4 L473.7 653.6 Q467.5 656.9 461.3 660.0 L382.0 699.3 Q375.7 702.4 369.1 704.8 L366.5 705.7 Q361.2 707.6 356.2 710.3 L355.7 710.6 Q351.2 713.0 346.3 714.3 L346.3 714.3 Q341.4 715.6 336.5 714.6 L325.3 712.2 Q318.4 710.7 311.5 709.4 L295.4 706.1 Q288.6 704.8 281.7 703.6 L268.3 701.5 Q261.4 700.3 254.5 701.6 L246.3 703.0" fill="none" stroke="#2a2a2a" stroke-width="1.4" stroke-linejoin="round"/>
<path d="M910.7 256.0 L906.5 256.8 Q903.6 257.3 901.5 255.2 L901.5 255.2 Q899.5 253.0 899.7 250.0 L899.8 248.0 Q900.0 243.7 903.5 241.1 L903.5 241.1 Q907.0 238.6 911.3 239.1 L912.5 239.3 Q918.0 240.0 923.3 241.7 L923.8 241.8 Q929.5 243.7 934.8 246.7 L948.9 254.6 Q955.0 258.0 961.0 261.6 L964.0 263.4 Q970.0 267.0 974.9 271.9 L975.6 272.6 Q980.0 277.0 983.0 282.5 L983.8 284.0 Q986.0 288.0 985.0 292.5 L985.0 292.5 Q984.0 297.0 980.7 300.2 L977.7 303.1 Q972.7 307.9 967.7 312.9 L965.7 314.9 Q960.7 319.9 956.6 325.5 L950.9 333.4 Q946.8 339.1 942.5 344.7 L932.0 358.6 Q927.8 364.2 923.5 369.7 L922.0 371.7 Q917.7 377.2 913.4 382.7 L904.8 393.7 Q900.5 399.2 896.3 404.8 L888.6 415.0 Q885.2 419.6 881.1 423.6 L881.1 423.6 Q877.0 427.6 872.1 430.6 L860.7 437.7 Q854.8 441.4 849.0 445.3 L825.3 461.2 Q819.9 464.8 814.4 468.3 L814.4 468.3 Q808.9 471.9 802.9 474.2 L801.9 474.6 Q795.3 477.1 788.6 479.1 L783.0 480.9 Q776.3 483.0 770.2 486.4 L745.4 500.2 Q739.3 503.7 733.2 507.1 L702.8 524.3 Q696.7 527.7 690.6 531.1 L585.3 588.2 Q579.2 591.6 573.0 594.8 L471.3 649.0 Q465.1 652.3 458.8 655.4 L379.5 694.9 Q373.3 698.0 366.8 700.7 L363.7 701.9 Q358.6 704.1 353.8 706.9 L352.1 707.9 Q349.0 709.7 345.5 710.7 L345.5 710.7 Q342.0 711.7 338.5 710.9 L326.1 708.3 Q319.2 706.8 312.4 705.4 L296.2 702.2 Q289.3 700.8 282.4 699.7 L267.8 697.3 Q262.0 696.4 256.1 696.1 L256.1 696.1 Q250.3 695.9 244.4 695.4 L235.0 694.7 Q232.0 694.5 230.0 692.2 L230.0 692.2 Q228.0 690.0 226.3 687.5 L226.0 687.0 Q224.0 684.0 221.6 681.3 L220.8 680.4 Q219.0 678.5 216.5 679.2 L216.2 679.3 Q214.0 680.0 211.8 680.2 L211.8 680.2 Q209.5 680.5 207.2 680.4 L202.6 680.1 Q200.5 680.0 199.9 678.0 L199.9 678.0 Q199.3 676.0 199.3 673.9 L199.3 667.0" fill="none" stroke="#444" stroke-width="3.5" stroke-linejoin="round" stroke-linecap="butt"/>
<path d="M910.7 256.0 L906.5 256.8 Q903.6 257.3 901.5 255.2 L901.5 255.2 Q899.5 253.0 899.7 250.0 L899.8 248.0 Q900.0 243.7 903.5 241.1 L903.5 241.1 Q907.0 238.6 911.3 239.1 L912.5 239.3 Q918.0 240.0 923.3 241.7 L923.8 241.8 Q929.5 243.7 934.8 246.7 L948.9 254.6 Q955.0 258.0 961.0 261.6 L964.0 263.4 Q970.0 267.0 974.9 271.9 L975.6 272.6 Q980.0 277.0 983.0 282.5 L983.8 284.0 Q986.0 288.0 985.0 292.5 L985.0 292.5 Q984.0 297.0 980.7 300.2 L977.7 303.1 Q972.7 307.9 967.7 312.9 L965.7 314.9 Q960.7 319.9 956.6 325.5 L950.9 333.4 Q946.8 339.1 942.5 344.7 L932.0 358.6 Q927.8 364.2 923.5 369.7 L922.0 371.7 Q917.7 377.2 913.4 382.7 L904.8 393.7 Q900.5 399.2 896.3 404.8 L888.6 415.0 Q885.2 419.6 881.1 423.6 L881.1 423.6 Q877.0 427.6 872.1 430.6 L860.7 437.7 Q854.8 441.4 849.0 445.3 L825.3 461.2 Q819.9 464.8 814.4 468.3 L814.4 468.3 Q808.9 471.9 802.9 474.2 L801.9 474.6 Q795.3 477.1 788.6 479.1 L783.0 480.9 Q776.3 483.0 770.2 486.4 L745.4 500.2 Q739.3 503.7 733.2 507.1 L702.8 524.3 Q696.7 527.7 690.6 531.1 L585.3 588.2 Q579.2 591.6 573.0 594.8 L471.3 649.0 Q465.1 652.3 458.8 655.4 L379.5 694.9 Q373.3 698.0 366.8 700.7 L363.7 701.9 Q358.6 704.1 353.8 706.9 L352.1 707.9 Q349.0 709.7 345.5 710.7 L345.5 710.7 Q342.0 711.7 338.5 710.9 L326.1 708.3 Q319.2 706.8 312.4 705.4 L296.2 702.2 Q289.3 700.8 282.4 699.7 L267.8 697.3 Q262.0 696.4 256.1 696.1 L256.1 696.1 Q250.3 695.9 244.4 695.4 L235.0 694.7 Q232.0 694.5 230.0 692.2 L230.0 692.2 Q228.0 690.0 226.3 687.5 L226.0 687.0 Q224.0 684.0 221.6 681.3 L220.8 680.4 Q219.0 678.5 216.5 679.2 L216.2 679.3 Q214.0 680.0 211.8 680.2 L211.8 680.2 Q209.5 680.5 207.2 680.4 L202.6 680.1 Q200.5 680.0 199.9 678.0 L199.9 678.0 Q199.3 676.0 199.3 673.9 L199.3 667.0" fill="none" stroke="#fff" stroke-width="1.6" stroke-linejoin="round" stroke-linecap="butt"/>
<path d="M768.0 206.0 L770.0 203.0 Q772.0 200.0 775.2 198.4 L776.8 197.6 Q781.5 195.2 786.4 193.2 L787.2 192.8 Q793.0 190.5 798.9 188.6 L799.9 188.3 Q804.9 186.7 810.1 185.8 L812.4 185.3 Q815.3 184.8 817.9 186.1 L817.9 186.1 Q820.5 187.4 823.0 188.8 L850.7 204.1 Q856.8 207.5 862.8 211.0 L894.0 229.3 Q900.0 232.8 906.2 236.1 L933.8 251.2 Q940.0 254.5 946.1 258.0 L953.9 262.5 Q960.0 266.0 965.6 270.2 L967.4 271.6 Q972.0 275.0 975.5 279.5 L976.8 281.2 Q979.0 284.0 979.8 287.5 L979.8 287.5 Q980.5 291.0 978.2 293.7 L973.7 298.9 Q969.1 304.2 964.2 309.1 L961.7 311.6 Q956.7 316.5 952.6 322.2 L946.7 330.3 Q942.6 336.0 938.3 341.5 L927.8 355.4 Q923.6 361.0 919.3 366.5 L917.8 368.4 Q913.6 374.0 909.2 379.5 L900.6 390.5 Q896.3 396.0 892.1 401.6 L884.1 412.1 Q881.2 416.1 877.4 419.1 L877.4 419.1 Q873.6 422.2 869.4 424.7 L857.1 432.1 Q851.1 435.7 845.3 439.6 L821.2 455.8 Q816.1 459.2 811.0 462.5 L811.0 462.5 Q805.9 465.8 800.2 468.0 L799.5 468.2 Q793.1 470.6 786.6 472.7 L780.0 474.7 Q773.4 476.8 767.2 480.2 L742.1 494.3 Q736.0 497.7 729.9 501.2 L699.6 518.3 Q693.5 521.8 687.3 525.1 L582.1 582.2 Q575.9 585.6 569.8 588.9 L468.1 643.0 Q461.9 646.3 455.7 649.5 L377.1 690.3 Q370.9 693.6 364.8 696.9 L361.6 698.6 Q356.7 701.2 352.2 704.3 L350.0 705.9 Q347.7 707.5 345.0 708.4 L345.0 708.4 Q342.3 709.2 339.6 708.6 L326.6 705.8 Q319.7 704.4 312.9 703.0 L296.6 699.8 Q289.7 698.4 282.8 697.2 L268.4 694.9 Q262.3 693.9 256.2 693.6 L255.1 693.6 Q250.1 693.4 245.2 694.4 L244.2 694.6 Q240.4 695.4 236.7 693.9 L236.7 693.9 Q233.0 692.5 231.8 688.7 L231.6 688.1 Q230.2 683.7 228.3 679.5 L227.8 678.4 Q225.4 673.0 221.5 668.6 L216.0 662.2 Q212.4 658.1 208.2 654.6 L206.5 653.3 Q203.9 651.2 200.7 650.4 L200.5 650.4 Q197.5 649.6 195.9 647.0 L195.9 647.0 Q194.3 644.3 194.2 641.2 L194.0 629.7 Q193.8 623.1 189.8 617.8 L189.8 617.8 Q185.8 612.5 180.3 608.8 L178.9 607.9 Q173.1 604.0 166.2 603.1 L163.0 602.8 Q156.1 601.9 152.1 596.2 L142.8 582.9 Q141.2 580.6 138.6 579.8 L138.6 579.8 Q135.9 579.0 133.2 579.6 L126.8 581.1 Q120.0 582.7 113.5 585.4 L106.5 588.3 Q100.0 591.0 93.6 593.9 L79.2 600.6 Q75.0 602.5 71.0 604.8 L70.7 604.9 Q67.0 607.0 65.8 611.0 L65.8 611.0 Q64.5 615.0 61.1 617.5 L59.0 619.0 Q55.0 622.0 50.0 622.2 L50.0 622.2 Q45.0 622.5 40.9 619.6 L37.7 617.4 Q32.5 613.8 27.2 610.1 L22.0 606.5" fill="none" stroke="#444" stroke-width="3.5" stroke-linejoin="round" stroke-linecap="butt"/>
<path d="M768.0 206.0 L770.0 203.0 Q772.0 200.0 775.2 198.4 L776.8 197.6 Q781.5 195.2 786.4 193.2 L787.2 192.8 Q793.0 190.5 798.9 188.6 L799.9 188.3 Q804.9 186.7 810.1 185.8 L812.4 185.3 Q815.3 184.8 817.9 186.1 L817.9 186.1 Q820.5 187.4 823.0 188.8 L850.7 204.1 Q856.8 207.5 862.8 211.0 L894.0 229.3 Q900.0 232.8 906.2 236.1 L933.8 251.2 Q940.0 254.5 946.1 258.0 L953.9 262.5 Q960.0 266.0 965.6 270.2 L967.4 271.6 Q972.0 275.0 975.5 279.5 L976.8 281.2 Q979.0 284.0 979.8 287.5 L979.8 287.5 Q980.5 291.0 978.2 293.7 L973.7 298.9 Q969.1 304.2 964.2 309.1 L961.7 311.6 Q956.7 316.5 952.6 322.2 L946.7 330.3 Q942.6 336.0 938.3 341.5 L927.8 355.4 Q923.6 361.0 919.3 366.5 L917.8 368.4 Q913.6 374.0 909.2 379.5 L900.6 390.5 Q896.3 396.0 892.1 401.6 L884.1 412.1 Q881.2 416.1 877.4 419.1 L877.4 419.1 Q873.6 422.2 869.4 424.7 L857.1 432.1 Q851.1 435.7 845.3 439.6 L821.2 455.8 Q816.1 459.2 811.0 462.5 L811.0 462.5 Q805.9 465.8 800.2 468.0 L799.5 468.2 Q793.1 470.6 786.6 472.7 L780.0 474.7 Q773.4 476.8 767.2 480.2 L742.1 494.3 Q736.0 497.7 729.9 501.2 L699.6 518.3 Q693.5 521.8 687.3 525.1 L582.1 582.2 Q575.9 585.6 569.8 588.9 L468.1 643.0 Q461.9 646.3 455.7 649.5 L377.1 690.3 Q370.9 693.6 364.8 696.9 L361.6 698.6 Q356.7 701.2 352.2 704.3 L350.0 705.9 Q347.7 707.5 345.0 708.4 L345.0 708.4 Q342.3 709.2 339.6 708.6 L326.6 705.8 Q319.7 704.4 312.9 703.0 L296.6 699.8 Q289.7 698.4 282.8 697.2 L268.4 694.9 Q262.3 693.9 256.2 693.6 L255.1 693.6 Q250.1 693.4 245.2 694.4 L244.2 694.6 Q240.4 695.4 236.7 693.9 L236.7 693.9 Q233.0 692.5 231.8 688.7 L231.6 688.1 Q230.2 683.7 228.3 679.5 L227.8 678.4 Q225.4 673.0 221.5 668.6 L216.0 662.2 Q212.4 658.1 208.2 654.6 L206.5 653.3 Q203.9 651.2 200.7 650.4 L200.5 650.4 Q197.5 649.6 195.9 647.0 L195.9 647.0 Q194.3 644.3 194.2 641.2 L194.0 629.7 Q193.8 623.1 189.8 617.8 L189.8 617.8 Q185.8 612.5 180.3 608.8 L178.9 607.9 Q173.1 604.0 166.2 603.1 L163.0 602.8 Q156.1 601.9 152.1 596.2 L142.8 582.9 Q141.2 580.6 138.6 579.8 L138.6 579.8 Q135.9 579.0 133.2 579.6 L126.8 581.1 Q120.0 582.7 113.5 585.4 L106.5 588.3 Q100.0 591.0 93.6 593.9 L79.2 600.6 Q75.0 602.5 71.0 604.8 L70.7 604.9 Q67.0 607.0 65.8 611.0 L65.8 611.0 Q64.5 615.0 61.1 617.5 L59.0 619.0 Q55.0 622.0 50.0 622.2 L50.0 622.2 Q45.0 622.5 40.9 619.6 L37.7 617.4 Q32.5 613.8 27.2 610.1 L22.0 606.5" fill="none" stroke="#fff" stroke-width="1.6" stroke-linejoin="round" stroke-linecap="butt"/>
<path d="M851.1 435.7 L821.2 455.8 Q816.1 459.2 811.0 462.5 L811.0 462.5 Q805.9 465.8 800.2 468.0 L799.5 468.2 Q793.1 470.6 786.6 472.7 L780.0 474.7 Q773.4 476.8 767.2 480.2 L742.1 494.3 Q736.0 497.7 729.9 501.2 L699.6 518.3 Q693.5 521.8 687.3 525.1 L582.1 582.2 Q575.9 585.6 569.8 588.9 L468.1 643.0 Q461.9 646.3 455.7 649.5 L370.9 693.6" fill="none" stroke="#8a8a8a" stroke-width="1.5" stroke-linejoin="round" stroke-linecap="round" stroke-dasharray="1 1.4"/>
<path d="M912.0 254.5 L916.1 253.7 Q919.5 253.0 919.2 249.5 L919.0 246.0" fill="none" stroke="#444" stroke-width="2.6" stroke-linejoin="round" stroke-linecap="butt"/>
<path d="M912.0 254.5 L916.1 253.7 Q919.5 253.0 919.2 249.5 L919.0 246.0" fill="none" stroke="#fff" stroke-width="1.0" stroke-linejoin="round" stroke-linecap="butt"/>
<g transform="translate(764.5 211) rotate(35)"><rect x="-6" y="-4" width="12" height="8" rx="1.5" fill="#fff" stroke="#222" stroke-width="1.4"/><rect x="-1" y="-3" width="6" height="6" fill="#fff" stroke="#222"/></g>
<path d="M209.5 674.0 L209.5 690.0" fill="none" stroke="#444" stroke-width="2.6" stroke-linejoin="round" stroke-linecap="butt"/>
<path d="M209.5 674.0 L209.5 690.0" fill="none" stroke="#fff" stroke-width="1.0" stroke-linejoin="round" stroke-linecap="butt"/>
<rect x="197.3" y="660" width="4" height="6" fill="#fff" stroke="#444"/>
<rect x="207.5" y="667" width="4" height="6" fill="#fff" stroke="#444"/>
<rect x="686.5" y="520.5" width="10" height="4" fill="#fff" stroke="#444" transform="rotate(-29 691.5 522)"/>
<rect x="570.5" y="584.3" width="10" height="4" fill="#fff" stroke="#444" transform="rotate(-29 575.5 585.8)"/>
<rect x="457" y="644.8" width="10" height="4" fill="#fff" stroke="#444" transform="rotate(-29 462 646.3)"/>
<rect x="359.5" y="695.5" width="10" height="4" fill="#fff" stroke="#444" transform="rotate(-29 364.5 697)"/>
<polyline points="941.5,333.0 944.0,338.0 947.5,336.0" fill="none" stroke="#444" stroke-width="1" stroke-linejoin="round" stroke-linecap="round" />
<g transform="translate(15.5 607.5) rotate(-20)"><rect x="-3" y="-10" width="7" height="20" rx="2" fill="#fff" stroke="#222" stroke-width="1.2"/><circle cx="0.5" cy="-6" r="1.3" fill="none" stroke="#222"/><circle cx="0.5" cy="6" r="1.3" fill="none" stroke="#222"/><circle cx="-4" cy="0" r="2.5" fill="#fff" stroke="#222" stroke-width="1.2"/></g>
<line x1="47.5" y1="530" x2="47.5" y2="550" stroke="#444" stroke-width="1" />
<polyline points="42.5,551.0 32.0,546.0 32.0,607.5" fill="none" stroke="#444" stroke-width="1" stroke-linejoin="round" stroke-linecap="round" stroke-dasharray="7 1.5 1.5 1.5"/>
<line x1="100.5" y1="542" x2="100.5" y2="590" stroke="#444" stroke-width="1" stroke-dasharray="7 1.5 1.5 1.5"/>
<polygon points="100.5,590.0 98.9,584.0 102.1,584.0" fill="#222" stroke="#222" stroke-width="0.5" stroke-linejoin="round" />
<circle cx="100.5" cy="532.5" r="9.0" fill="#fff" stroke="#444" stroke-width="1"/>
<text x="100.5" y="535.7" font-size="14.5" fill="#1a1a1a" text-anchor="middle">g</text>
<line x1="148.5" y1="536.5" x2="148.5" y2="583" stroke="#444" stroke-width="1" stroke-dasharray="7 1.5 1.5 1.5"/>
<polygon points="148.0,583.0 146.4,577.0 149.6,577.0" fill="#222" stroke="#222" stroke-width="0.5" stroke-linejoin="round" />
<circle cx="148" cy="527" r="9.0" fill="#fff" stroke="#444" stroke-width="1"/>
<text x="148" y="532.3" font-size="15" fill="#1a1a1a" text-anchor="middle">O</text>
<line x1="209.5" y1="530.5" x2="209.5" y2="573" stroke="#444" stroke-width="1" stroke-dasharray="7 1.5 1.5 1.5"/>
<polygon points="209.5,573.0 207.9,567.0 211.1,567.0" fill="#222" stroke="#222" stroke-width="0.5" stroke-linejoin="round" />
<circle cx="209.5" cy="521" r="9.0" fill="#fff" stroke="#444" stroke-width="1"/>
<text x="209.5" y="526" font-size="14.5" fill="#1a1a1a" text-anchor="middle">h</text>
<line x1="245.5" y1="645" x2="245.5" y2="684.3" stroke="#444" stroke-width="1" stroke-dasharray="7 1.5 1.5 1.5"/>
<line x1="245.5" y1="684.3" x2="233.7" y2="690.2" stroke="#444" stroke-width="1" />
<polygon points="233.7,690.2 238.4,686.1 239.8,688.9" fill="#222" stroke="#222" stroke-width="0.5" stroke-linejoin="round" />
<circle cx="245.5" cy="635.5" r="9.0" fill="#fff" stroke="#444" stroke-width="1"/>
<text x="245.5" y="638.7" font-size="14.5" fill="#1a1a1a" text-anchor="middle">j</text>
<line x1="169.5" y1="674.5" x2="169.5" y2="642.7" stroke="#444" stroke-width="1" stroke-dasharray="7 1.5 1.5 1.5"/>
<line x1="169" y1="642.7" x2="185.3" y2="633.2" stroke="#444" stroke-width="1" />
<polygon points="185.3,633.2 180.9,637.6 179.3,634.8" fill="#222" stroke="#222" stroke-width="0.5" stroke-linejoin="round" />
<circle cx="169.5" cy="684" r="9.0" fill="#fff" stroke="#444" stroke-width="1"/>
<text x="169.5" y="689" font-size="14.5" fill="#1a1a1a" text-anchor="middle">k</text>
<line x1="122.5" y1="594" x2="122.5" y2="615" stroke="#444" stroke-width="1" />
<line x1="35.75" y1="690.5" x2="82.5" y2="690.5" stroke="#444" stroke-width="1" />
<line x1="35.5" y1="675" x2="35.5" y2="690.5" stroke="#444" stroke-width="1" />
<line x1="82.5" y1="630" x2="82.5" y2="690.5" stroke="#444" stroke-width="1" />
<line x1="58.5" y1="662.5" x2="58.5" y2="702" stroke="#444" stroke-width="1" />
<line x1="210.5" y1="600" x2="210.5" y2="667.5" stroke="#444" stroke-width="1" stroke-dasharray="7 1.5 1.5 1.5"/>
<g transform="translate(91.5 606.5) rotate(-55)"><rect x="-4.0" y="-2.5" width="8" height="5" fill="#fff" stroke="#444" stroke-width="1"/><line x1="-1.3333333333333333" y1="-2.5" x2="-1.3333333333333333" y2="2.5" stroke="#444"/><line x1="1.6" y1="-2.5" x2="1.6" y2="2.5" stroke="#444"/></g>
<line x1="88.5" y1="611" x2="81.5" y2="624" stroke="#444" stroke-width="1" stroke-dasharray="7 1.5 1.5 1.5"/>
<line x1="78" y1="632" x2="74" y2="640" stroke="#444" stroke-width="1" stroke-dasharray="7 1.5 1.5 1.5"/>
<line x1="37.5" y1="670" x2="49" y2="661" stroke="#444" stroke-width="1" stroke-dasharray="7 1.5 1.5 1.5"/>
<path d="M73.0 640.5 L71.8 644.2 Q70.5 648.0 67.4 650.4 L66.2 651.2 Q62.0 654.5 57.4 657.2 L51.5 660.5" fill="none" stroke="#444" stroke-width="6.2" stroke-linejoin="round" stroke-linecap="round"/>
<path d="M73.0 640.5 L71.8 644.2 Q70.5 648.0 67.4 650.4 L66.2 651.2 Q62.0 654.5 57.4 657.2 L51.5 660.5" fill="none" stroke="#fff" stroke-width="4.2" stroke-linejoin="round" stroke-linecap="round"/>
<ellipse cx="80" cy="627.5" rx="3.5" ry="3" fill="#fff" stroke="#222" stroke-width="1.5"/>
<polygon points="30.5,669.5 36.0,668.0 38.0,673.0 33.0,676.0" fill="#fff" stroke="#222" stroke-width="1.2" stroke-linejoin="round" />
<line x1="365.5" y1="633" x2="365.5" y2="693" stroke="#444" stroke-width="1" stroke-dasharray="7 1.5 1.5 1.5"/>
<polygon points="365.0,693.0 363.4,687.0 366.6,687.0" fill="#222" stroke="#222" stroke-width="0.5" stroke-linejoin="round" />
<circle cx="365" cy="623.5" r="9.0" fill="#fff" stroke="#444" stroke-width="1"/>
<text x="365" y="628.5" font-size="14.5" fill="#1a1a1a" text-anchor="middle">i</text>
<line x1="461.5" y1="583.5" x2="461.5" y2="643" stroke="#444" stroke-width="1" stroke-dasharray="7 1.5 1.5 1.5"/>
<polygon points="461.0,643.0 459.4,637.0 462.6,637.0" fill="#222" stroke="#222" stroke-width="0.5" stroke-linejoin="round" />
<circle cx="461" cy="574" r="9.0" fill="#fff" stroke="#444" stroke-width="1"/>
<text x="461" y="579" font-size="14.5" fill="#1a1a1a" text-anchor="middle">i</text>
<line x1="574.5" y1="525" x2="574.5" y2="582.5" stroke="#444" stroke-width="1" stroke-dasharray="7 1.5 1.5 1.5"/>
<polygon points="574.5,582.5 572.9,576.5 576.1,576.5" fill="#222" stroke="#222" stroke-width="0.5" stroke-linejoin="round" />
<circle cx="574.5" cy="515.5" r="9.0" fill="#fff" stroke="#444" stroke-width="1"/>
<text x="574.5" y="520.5" font-size="14.5" fill="#1a1a1a" text-anchor="middle">i</text>
<line x1="691.5" y1="460" x2="691.5" y2="518.5" stroke="#444" stroke-width="1" stroke-dasharray="7 1.5 1.5 1.5"/>
<polygon points="691.5,518.5 689.9,512.5 693.1,512.5" fill="#222" stroke="#222" stroke-width="0.5" stroke-linejoin="round" />
<circle cx="691.5" cy="450.5" r="9.0" fill="#fff" stroke="#444" stroke-width="1"/>
<text x="691.5" y="455.5" font-size="14.5" fill="#1a1a1a" text-anchor="middle">i</text>
<line x1="792.5" y1="409.5" x2="792.5" y2="468.5" stroke="#444" stroke-width="1" stroke-dasharray="7 1.5 1.5 1.5"/>
<polygon points="792.5,468.5 790.9,462.5 794.1,462.5" fill="#222" stroke="#222" stroke-width="0.5" stroke-linejoin="round" />
<circle cx="792.5" cy="400" r="9.0" fill="#fff" stroke="#444" stroke-width="1"/>
<text x="792.5" y="405" font-size="14.5" fill="#1a1a1a" text-anchor="middle">l</text>
<line x1="856.5" y1="371" x2="856.5" y2="430.5" stroke="#444" stroke-width="1" stroke-dasharray="7 1.5 1.5 1.5"/>
<polygon points="856.5,430.5 854.9,424.5 858.1,424.5" fill="#222" stroke="#222" stroke-width="0.5" stroke-linejoin="round" />
<circle cx="856.5" cy="361.5" r="9.0" fill="#fff" stroke="#444" stroke-width="1"/>
<text x="856.5" y="365.7" font-size="14" fill="#1a1a1a" text-anchor="middle">m</text>
<line x1="912.5" y1="312.5" x2="912.5" y2="371" stroke="#444" stroke-width="1" stroke-dasharray="7 1.5 1.5 1.5"/>
<polygon points="912.5,371.0 910.9,365.0 914.1,365.0" fill="#222" stroke="#222" stroke-width="0.5" stroke-linejoin="round" />
<circle cx="912.5" cy="303" r="9.0" fill="#fff" stroke="#444" stroke-width="1"/>
<text x="912.5" y="308" font-size="14.5" fill="#1a1a1a" text-anchor="middle">l</text>
<polygon points="795.6,503.8 768.0,515.3 751.0,522.2 697.5,552.9 696.0,556.7 680.6,565.0 630.0,589.7 559.0,629.4 554.0,634.5 508.3,654.9 508.3,661.6 440.0,694.8 345.2,742.3 343.2,747.1 331.6,746.1 323.9,738.4 308.4,733.5 298.7,733.5 292.9,738.4 285.2,737.4 258.0,731.6 238.7,737.4 235.8,735.5 221.3,727.7 215.5,731.6 215.5,733.5 232.9,746.1 246.5,755.8 256.1,760.6 257.1,754.8 269.7,757.7 302.6,764.5 323.9,767.4 339.4,769.4 352.9,769.4 360.6,765.5 378.1,753.9 440.0,722.9 480.0,700.0 528.0,675.0 620.0,624.4 630.0,620.0 706.7,580.5 752.7,551.3 771.0,540.6 775.7,539.0 804.8,529.9" fill="#fff" stroke="#3c3c3c" stroke-width="1" stroke-linejoin="round" />
<polyline points="797.0,510.0 774.0,517.6 752.7,527.6 748.0,531.4 743.5,536.0 683.7,571.3 659.0,582.0 630.0,597.3 560.0,634.0 511.0,660.5" fill="none" stroke="#3c3c3c" stroke-width="1" stroke-linejoin="round" stroke-linecap="round" />
<polyline points="774.5,536.8 769.8,538.4 751.5,549.1 705.5,578.3 628.8,617.8 618.8,622.2 526.8,672.8 478.8,697.8 438.8,720.7" fill="none" stroke="#3c3c3c" stroke-width="1" stroke-linejoin="round" stroke-linecap="round" />
<polyline points="749.6,534.5 771.0,540.6" fill="none" stroke="#3c3c3c" stroke-width="1" stroke-linejoin="round" stroke-linecap="round" />
<polyline points="235.8,736.5 241.6,746.1 256.1,748.1 269.7,746.1 285.2,748.1 300.6,742.3 308.4,742.6 323.9,748.1 351.0,758.7 358.7,761.6 378.1,751.9" fill="none" stroke="#3c3c3c" stroke-width="1" stroke-linejoin="round" stroke-linecap="round" />
<polygon points="246.5,749.0 250.7,748.0 256.1,754.8 256.1,761.0 247.4,756.8" fill="#fff" stroke="#3c3c3c" stroke-width="1" stroke-linejoin="round" />
<line x1="269.5" y1="746" x2="269.5" y2="757.7" stroke="#3c3c3c" stroke-width="1" />
<line x1="302.5" y1="742.3" x2="302.5" y2="764.5" stroke="#3c3c3c" stroke-width="1" />
<line x1="323.5" y1="738.4" x2="323.5" y2="767.4" stroke="#3c3c3c" stroke-width="1" />
<polyline points="221.3,727.7 224.0,731.5 235.8,736.5" fill="none" stroke="#3c3c3c" stroke-width="1" stroke-linejoin="round" stroke-linecap="round" />
<polyline points="508.3,661.6 440.0,699.7 347.0,745.2 344.2,749.0 333.5,748.0" fill="none" stroke="#3c3c3c" stroke-width="1" stroke-linejoin="round" stroke-linecap="round" />
<polyline points="508.3,661.6 511.0,668.0 527.0,675.0" fill="none" stroke="#3c3c3c" stroke-width="1" stroke-linejoin="round" stroke-linecap="round" />
<circle cx="797" cy="521.5" r="1" fill="none" stroke="#3c3c3c"/>
<rect x="739.5" y="545.5" width="11" height="4" rx="2.0" fill="#fff" stroke="#3c3c3c" transform="rotate(33 745.0 547.5)"/>
<rect x="705.8" y="565.4" width="11" height="4" rx="2.0" fill="#fff" stroke="#3c3c3c" transform="rotate(33 711.3 567.4)"/>
<rect x="662.1" y="589.2" width="11" height="4" rx="2.0" fill="#fff" stroke="#3c3c3c" transform="rotate(33 667.6 591.2)"/>
<rect x="629.1" y="607.6" width="11" height="4" rx="2.0" fill="#fff" stroke="#3c3c3c" transform="rotate(33 634.6 609.6)"/>
<rect x="584.1" y="630.8" width="11" height="4" rx="2.0" fill="#fff" stroke="#3c3c3c" transform="rotate(33 589.6 632.8)"/>
<rect x="545.1" y="651.0" width="11" height="4" rx="2.0" fill="#fff" stroke="#3c3c3c" transform="rotate(33 550.6 653.0)"/>
<rect x="510.5" y="669.0" width="11" height="4" rx="2.0" fill="#fff" stroke="#3c3c3c" transform="rotate(33 516.0 671.0)"/>
<rect x="472.3" y="688.4" width="11" height="4" rx="2.0" fill="#fff" stroke="#3c3c3c" transform="rotate(33 477.8 690.4)"/>
<rect x="431.5" y="710.4" width="11" height="4" rx="2.0" fill="#fff" stroke="#3c3c3c" transform="rotate(33 437.0 712.4)"/>
<rect x="397.5" y="727.4" width="11" height="4" rx="2.0" fill="#fff" stroke="#3c3c3c" transform="rotate(33 403.0 729.4)"/>
<rect x="720.5" y="553.9" width="6" height="2.6" fill="#fff" stroke="#3c3c3c" stroke-width="0.9" transform="rotate(-29 723.5 555.2)"/>
<rect x="729.0" y="559.2" width="6" height="2.6" fill="#fff" stroke="#3c3c3c" stroke-width="0.9" transform="rotate(-29 732.0 560.5)"/>
<rect x="677.6" y="577.7" width="6" height="2.6" fill="#fff" stroke="#3c3c3c" stroke-width="0.9" transform="rotate(-29 680.6 579.0)"/>
<rect x="686.0" y="583.0" width="6" height="2.6" fill="#fff" stroke="#3c3c3c" stroke-width="0.9" transform="rotate(-29 689.0 584.3)"/>
<rect x="643.0" y="596.7" width="6" height="2.6" fill="#fff" stroke="#3c3c3c" stroke-width="0.9" transform="rotate(-29 646.0 598.0)"/>
<rect x="651.5" y="602.2" width="6" height="2.6" fill="#fff" stroke="#3c3c3c" stroke-width="0.9" transform="rotate(-29 654.5 603.5)"/>
<rect x="600.0" y="618.7" width="6" height="2.6" fill="#fff" stroke="#3c3c3c" stroke-width="0.9" transform="rotate(-29 603.0 620.0)"/>
<rect x="608.0" y="624.2" width="6" height="2.6" fill="#fff" stroke="#3c3c3c" stroke-width="0.9" transform="rotate(-29 611.0 625.5)"/>
<rect x="562.0" y="638.7" width="6" height="2.6" fill="#fff" stroke="#3c3c3c" stroke-width="0.9" transform="rotate(-29 565.0 640.0)"/>
<rect x="570.0" y="644.2" width="6" height="2.6" fill="#fff" stroke="#3c3c3c" stroke-width="0.9" transform="rotate(-29 573.0 645.5)"/>
<rect x="489.0" y="676.7" width="6" height="2.6" fill="#fff" stroke="#3c3c3c" stroke-width="0.9" transform="rotate(-29 492.0 678.0)"/>
<rect x="497.0" y="682.2" width="6" height="2.6" fill="#fff" stroke="#3c3c3c" stroke-width="0.9" transform="rotate(-29 500.0 683.5)"/>
<rect x="449.0" y="698.2" width="6" height="2.6" fill="#fff" stroke="#3c3c3c" stroke-width="0.9" transform="rotate(-29 452.0 699.5)"/>
<rect x="457.0" y="703.7" width="6" height="2.6" fill="#fff" stroke="#3c3c3c" stroke-width="0.9" transform="rotate(-29 460.0 705.0)"/>
<rect x="415.0" y="715.7" width="6" height="2.6" fill="#fff" stroke="#3c3c3c" stroke-width="0.9" transform="rotate(-29 418.0 717.0)"/>
<rect x="382.0" y="735.7" width="6" height="2.6" fill="#fff" stroke="#3c3c3c" stroke-width="0.9" transform="rotate(-29 385.0 737.0)"/>
<circle cx="697.5" cy="572.8" r="1.1" fill="none" stroke="#3c3c3c" stroke-width="0.9"/>
<circle cx="705" cy="576.6" r="1.1" fill="none" stroke="#3c3c3c" stroke-width="0.9"/>
<circle cx="702.8" cy="569.7" r="1.1" fill="none" stroke="#3c3c3c" stroke-width="0.9"/>
<circle cx="530" cy="657" r="1.1" fill="none" stroke="#3c3c3c" stroke-width="0.9"/>
<circle cx="537" cy="661" r="1.1" fill="none" stroke="#3c3c3c" stroke-width="0.9"/>
<circle cx="534.5" cy="654" r="1.1" fill="none" stroke="#3c3c3c" stroke-width="0.9"/>
<rect x="689.9" y="574.9" width="9" height="3.4" rx="1.7" fill="#fff" stroke="#3c3c3c" transform="rotate(33 694.4 576.6)"/>
<rect x="522.5" y="660.3" width="9" height="3.4" rx="1.7" fill="#fff" stroke="#3c3c3c" transform="rotate(33 527.0 662.0)"/>
<line x1="683.7" y1="572.8" x2="697.5" y2="581.2" stroke="#3c3c3c" stroke-width="1" />
<line x1="515" y1="661" x2="528" y2="670" stroke="#3c3c3c" stroke-width="1" />
<line x1="539.5" y1="674" x2="539.5" y2="693.5" stroke="#444" stroke-width="1" />
<polygon points="550.8,161.1 559.3,159.0 566.4,160.4 570.6,170.3 566.4,176.0 559.3,167.5" fill="#fff" stroke="#2a2a2a" stroke-width="1.2" stroke-linejoin="round" />
<polyline points="555.0,162.5 563.5,162.1 567.1,171.7" fill="none" stroke="#2a2a2a" stroke-width="1" stroke-linejoin="round" stroke-linecap="round" />
<polygon points="536.2,170.2 534.9,174.7 536.9,181.9 542.1,187.7 552.4,191.6 562.8,189.0 575.8,183.8 583.5,179.3 583.5,174.1 574.5,167.6 562.8,161.1 552.4,159.2 545.9,159.8" fill="#fff" stroke="#2a2a2a" stroke-width="1.2" stroke-linejoin="round" />
<polyline points="536.9,181.9 544.0,184.5 555.0,185.8 568.0,181.2 583.5,174.1" fill="none" stroke="#2a2a2a" stroke-width="1" stroke-linejoin="round" stroke-linecap="round" />
<polyline points="538.2,192.2 547.2,197.4 565.4,198.1 583.5,197.4" fill="none" stroke="#2a2a2a" stroke-width="2.0" stroke-linejoin="round" stroke-linecap="round" />
<polyline points="537.5,194.2 546.6,200.0 565.4,200.7 583.5,200.0" fill="none" stroke="#2a2a2a" stroke-width="1" stroke-linejoin="round" stroke-linecap="round" />
<circle cx="565.6" cy="178.8" r="2.4" fill="#fff" stroke="#2a2a2a" stroke-width="1.3"/>
<polygon points="498.0,165.0 494.1,168.9 490.8,179.3 492.1,187.1 499.3,200.0 504.4,205.2 510.9,207.8 515.5,209.1 516.1,172.8 509.6,167.0 504.4,165.0" fill="#fff" stroke="#2a2a2a" stroke-width="1.2" stroke-linejoin="round" />
<polyline points="498.0,165.0 497.3,172.8 499.3,184.5 499.3,200.0" fill="none" stroke="#2a2a2a" stroke-width="1" stroke-linejoin="round" stroke-linecap="round" />
<polygon points="500.6,178.0 507.7,176.0 508.3,188.3 501.2,190.9" fill="#fff" stroke="#2a2a2a" stroke-width="1.1" stroke-linejoin="round" />
<polyline points="502.5,179.9 506.4,179.0 506.8,187.1 502.9,188.6" fill="none" stroke="#2a2a2a" stroke-width="1" stroke-linejoin="round" stroke-linecap="round" />
<ellipse cx="490.8" cy="179.9" rx="1.6" ry="2.6" fill="#fff" stroke="#2a2a2a" stroke-width="1.1"/>
<circle cx="510.9" cy="174.7" r="1.7" fill="#fff" stroke="#2a2a2a" stroke-width="1.2"/>
<circle cx="509.0" cy="182.5" r="1.5" fill="#fff" stroke="#2a2a2a" stroke-width="1.2"/>
<circle cx="507.7" cy="190.9" r="1.7" fill="#fff" stroke="#2a2a2a" stroke-width="1.2"/>
<circle cx="505.7" cy="198.7" r="1.7" fill="#fff" stroke="#2a2a2a" stroke-width="1.2"/>
<polygon points="516.1,172.8 529.1,176.0 530.4,188.3 529.7,202.6 523.9,207.8 515.5,209.1" fill="#fff" stroke="#2a2a2a" stroke-width="1.2" stroke-linejoin="round" />
<circle cx="524.5" cy="178.0" r="2.6" fill="#fff" stroke="#2a2a2a" stroke-width="1.5"/>
<circle cx="524.5" cy="178.0" r="1.1" fill="#fff" stroke="#2a2a2a" stroke-width="0.9"/>
<circle cx="517.4" cy="194.8" r="2.1" fill="#fff" stroke="#2a2a2a" stroke-width="1.3"/>
<circle cx="518.1" cy="207.5" r="2.5" fill="#fff" stroke="#2a2a2a" stroke-width="1.5"/>
<circle cx="518.1" cy="207.5" r="1" fill="#fff" stroke="#2a2a2a" stroke-width="0.9"/>
<circle cx="518.7" cy="189.6" r="1" fill="#fff" stroke="#2a2a2a" stroke-width="0.9"/>
<polyline points="523.9,186.4 525.5,188.3 524.5,191.6" fill="none" stroke="#2a2a2a" stroke-width="1" stroke-linejoin="round" stroke-linecap="round" />
<polygon points="509.6,167.0 516.1,172.8 529.1,176.0 536.2,170.2 545.9,159.8 536.9,154.6 523.9,157.9 516.8,161.1" fill="#fff" stroke="#2a2a2a" stroke-width="1.2" stroke-linejoin="round" />
<circle cx="522.6" cy="168.5" r="0.8" fill="#2a2a2a"/>
<circle cx="525.2" cy="167.9" r="0.8" fill="#2a2a2a"/>
<circle cx="531.0" cy="164.4" r="0.8" fill="#2a2a2a"/>
<circle cx="538.2" cy="161.8" r="0.8" fill="#2a2a2a"/>
<polygon points="494.7,153.3 498.6,147.5 505.7,144.3 514.2,140.4 516.1,137.8 520.0,139.7 527.8,137.1 534.9,137.8 538.2,141.0 538.8,146.2 536.9,150.7 531.7,154.0 523.9,156.6 516.8,160.5 510.3,162.4 504.4,159.2 501.9,160.5 497.3,159.2 496.0,155.9" fill="#fff" stroke="#2a2a2a" stroke-width="1.2" stroke-linejoin="round" />
<polygon points="504.4,152.7 518.1,146.2 529.7,147.5 532.3,151.4 517.4,157.9 509.0,157.9" fill="#fff" stroke="#2a2a2a" stroke-width="1.1" stroke-linejoin="round" />
<polyline points="506.4,154.6 518.7,148.8 529.1,149.7" fill="none" stroke="#2a2a2a" stroke-width="1" stroke-linejoin="round" stroke-linecap="round" />
<polyline points="511.6,154.6 522.6,150.1 527.8,151.4" fill="none" stroke="#2a2a2a" stroke-width="1.4" stroke-linejoin="round" stroke-linecap="round" />
<polyline points="520.0,149.4 523.9,154.0" fill="none" stroke="#2a2a2a" stroke-width="1.4" stroke-linejoin="round" stroke-linecap="round" />
<polyline points="498.6,147.5 501.9,154.6 504.4,159.2" fill="none" stroke="#2a2a2a" stroke-width="1" stroke-linejoin="round" stroke-linecap="round" />
<polyline points="496.0,155.9 501.9,154.6" fill="none" stroke="#2a2a2a" stroke-width="1" stroke-linejoin="round" stroke-linecap="round" />
<polygon points="530.4,188.3 533.0,185.8 536.2,187.1 536.9,192.2 534.3,197.4 530.4,200.0" fill="#fff" stroke="#2a2a2a" stroke-width="1.2" stroke-linejoin="round" />
<circle cx="534.0" cy="190.7" r="1.5" fill="#fff" stroke="#2a2a2a" stroke-width="1.2"/>
<circle cx="530.1" cy="201.1" r="1.7" fill="#fff" stroke="#2a2a2a" stroke-width="1.3"/>
<ellipse cx="547.0" cy="174.1" rx="8.2" ry="6" fill="#fff" stroke="#2a2a2a" stroke-width="1.4" transform="rotate(-8 547.0 174.1)"/>
<ellipse cx="547.0" cy="173.4" rx="6" ry="4.3" fill="#fff" stroke="#2a2a2a" stroke-width="1.1" transform="rotate(-8 547.0 174.1)"/>
<polyline points="536.9,178.0 539.5,183.2 545.9,185.1 553.7,183.2 557.0,179.3" fill="none" stroke="#2a2a2a" stroke-width="1.1" stroke-linejoin="round" stroke-linecap="round" />
<polygon points="528.4,205.9 525.8,220.8 528.4,225.3 535.6,227.9 543.3,226.6 546.6,222.7 549.2,206.5 544.6,202.6 536.9,200.7 531.0,202.6" fill="#fff" stroke="#2a2a2a" stroke-width="1.2" stroke-linejoin="round" />
<polyline points="526.5,219.5 530.4,223.4 536.9,225.3 544.0,224.0 547.0,220.8" fill="none" stroke="#2a2a2a" stroke-width="1" stroke-linejoin="round" stroke-linecap="round" />
<polyline points="529.7,208.4 533.0,207.5" fill="none" stroke="#2a2a2a" stroke-width="1" stroke-linejoin="round" stroke-linecap="round" />
<circle cx="543.0" cy="204.2" r="1.6" fill="#fff" stroke="#2a2a2a" stroke-width="1.2"/>
<polygon points="575.0,171.2 589.9,168.6 602.6,168.0 603.7,176.0 604.2,183.4 605.3,211.5 604.7,213.7 582.4,225.9 570.8,220.0 569.7,217.9 570.2,190.3 571.8,185.0 577.1,181.8" fill="#fff" stroke="#2a2a2a" stroke-width="1.2" stroke-linejoin="round" />
<polyline points="577.1,181.8 603.7,176.0" fill="none" stroke="#2a2a2a" stroke-width="1" stroke-linejoin="round" stroke-linecap="round" />
<polyline points="575.0,171.2 577.1,181.8 577.7,191.4 604.2,183.4" fill="none" stroke="#2a2a2a" stroke-width="1" stroke-linejoin="round" stroke-linecap="round" />
<polyline points="570.2,190.3 577.7,191.4" fill="none" stroke="#2a2a2a" stroke-width="1" stroke-linejoin="round" stroke-linecap="round" />
<polyline points="581.4,197.7 582.4,224.3" fill="none" stroke="#2a2a2a" stroke-width="1" stroke-linejoin="round" stroke-linecap="round" />
<polyline points="577.7,191.4 581.4,197.7" fill="none" stroke="#2a2a2a" stroke-width="1" stroke-linejoin="round" stroke-linecap="round" />
<polyline points="569.7,217.9 582.4,224.3 605.3,211.5" fill="none" stroke="#2a2a2a" stroke-width="1" stroke-linejoin="round" stroke-linecap="round" />
<polygon points="588.3,195.6 598.4,190.8 598.4,208.9 588.8,214.7" fill="#fff" stroke="#2a2a2a" stroke-width="1.1" stroke-linejoin="round" />
<polyline points="589.9,197.7 589.9,212.6 598.4,208.9" fill="none" stroke="#2a2a2a" stroke-width="1" stroke-linejoin="round" stroke-linecap="round" />
<polyline points="589.9,212.6 588.8,214.7" fill="none" stroke="#2a2a2a" stroke-width="1" stroke-linejoin="round" stroke-linecap="round" />
<polygon points="587.7,169.1 590.9,165.9 597.3,164.9 602.6,166.4 603.1,170.2 599.4,172.8 595.2,170.2" fill="#fff" stroke="#2a2a2a" stroke-width="1.1" stroke-linejoin="round" />
<polyline points="590.9,165.9 595.2,170.2 599.4,168.6 602.6,166.4" fill="none" stroke="#2a2a2a" stroke-width="1" stroke-linejoin="round" stroke-linecap="round" />
<polyline points="577.1,170.7 582.4,168.0 587.7,169.1" fill="none" stroke="#2a2a2a" stroke-width="1" stroke-linejoin="round" stroke-linecap="round" />
<polyline points="578.2,170.4 579.5,168.9" fill="none" stroke="#2a2a2a" stroke-width="1" stroke-linejoin="round" stroke-linecap="round" />
<polyline points="579.7,170.1 581.0,168.6" fill="none" stroke="#2a2a2a" stroke-width="1" stroke-linejoin="round" stroke-linecap="round" />
<polyline points="581.2,169.7 582.4,168.2" fill="none" stroke="#2a2a2a" stroke-width="1" stroke-linejoin="round" stroke-linecap="round" />
<polyline points="582.7,169.4 583.9,167.9" fill="none" stroke="#2a2a2a" stroke-width="1" stroke-linejoin="round" stroke-linecap="round" />
<polyline points="584.1,169.1 585.4,167.6" fill="none" stroke="#2a2a2a" stroke-width="1" stroke-linejoin="round" stroke-linecap="round" />
<polyline points="584.0,185.0 587.2,182.9 587.7,184.5" fill="none" stroke="#2a2a2a" stroke-width="2.2" stroke-linejoin="round" stroke-linecap="round" />
<polyline points="571.3,190.8 575.0,187.7 575.5,189.8" fill="none" stroke="#2a2a2a" stroke-width="2.2" stroke-linejoin="round" stroke-linecap="round" />
<polyline points="571.8,203.1 576.1,205.2 576.6,202.5" fill="none" stroke="#2a2a2a" stroke-width="1.5" stroke-linejoin="round" stroke-linecap="round" />
<polygon points="575.0,223.2 578.7,225.9 578.2,230.1 575.0,229.0 569.2,233.8 567.1,233.8 566.0,231.7 571.8,227.5" fill="#fff" stroke="#2a2a2a" stroke-width="1.1" stroke-linejoin="round" />
<polyline points="575.0,229.0 574.0,225.9" fill="none" stroke="#2a2a2a" stroke-width="1" stroke-linejoin="round" stroke-linecap="round" />
<ellipse cx="567.4" cy="232.4" rx="1.5" ry="2" fill="#fff" stroke="#2a2a2a" stroke-width="1.1" transform="rotate(-30 567.4 232.4)"/>
<line x1="97.5" y1="156" x2="97.5" y2="175.5" stroke="#444" stroke-width="1" />
<ellipse cx="97.3" cy="180" rx="2.7" ry="1.8" fill="#fff" stroke="#222" stroke-width="1.5" transform="rotate(-35 97.3 180)"/>
<polyline points="101.0,183.0 111.3,188.2 111.3,210.5 123.4,219.0" fill="none" stroke="#444" stroke-width="1" stroke-linejoin="round" stroke-linecap="round" stroke-dasharray="7 1.5 1.5 1.5"/>
<polyline points="134.0,191.5 111.8,243.5" fill="none" stroke="#444" stroke-width="1" stroke-linejoin="round" stroke-linecap="round" stroke-dasharray="7 1.5 1.5 1.5"/>
<path d="M104.5 213.0 L105.8 215.7 Q107.2 218.3 108.6 220.9 L109.7 222.7 Q110.8 224.8 113.2 224.5 L113.2 224.5 Q115.5 224.2 117.5 223.0 L122.5 220.0" fill="none" stroke="#333" stroke-width="3.4" stroke-linejoin="round" stroke-linecap="butt"/>
<path d="M104.5 213.0 L105.8 215.7 Q107.2 218.3 108.6 220.9 L109.7 222.7 Q110.8 224.8 113.2 224.5 L113.2 224.5 Q115.5 224.2 117.5 223.0 L122.5 220.0" fill="none" stroke="#fff" stroke-width="1.5" stroke-linejoin="round" stroke-linecap="butt"/>
<path d="M104.3 213.7 L102.2 210.0 Q100.0 206.3 96.0 204.7 L95.8 204.7 Q91.6 203.0 87.6 205.0 L85.9 205.9 Q81.0 208.4 78.3 213.2 L78.3 213.2 Q75.7 218.0 75.7 223.5 L75.7 228.0 Q75.7 235.0 76.9 241.9 L78.8 253.5 Q80.0 260.4 82.4 267.0 L85.0 273.9 Q86.3 277.4 88.9 280.0 L88.9 280.0 Q91.6 282.7 94.1 279.9 L94.8 279.0 Q98.0 275.3 100.4 271.0 L105.8 261.2 Q108.6 256.2 110.7 250.9 L112.8 245.6" fill="none" stroke="#333" stroke-width="5.0" stroke-linejoin="round" stroke-linecap="round"/>
<path d="M104.3 213.7 L102.2 210.0 Q100.0 206.3 96.0 204.7 L95.8 204.7 Q91.6 203.0 87.6 205.0 L85.9 205.9 Q81.0 208.4 78.3 213.2 L78.3 213.2 Q75.7 218.0 75.7 223.5 L75.7 228.0 Q75.7 235.0 76.9 241.9 L78.8 253.5 Q80.0 260.4 82.4 267.0 L85.0 273.9 Q86.3 277.4 88.9 280.0 L88.9 280.0 Q91.6 282.7 94.1 279.9 L94.8 279.0 Q98.0 275.3 100.4 271.0 L105.8 261.2 Q108.6 256.2 110.7 250.9 L112.8 245.6" fill="none" stroke="#fff" stroke-width="3.0" stroke-linejoin="round" stroke-linecap="round"/>
<rect x="-4" y="-3" width="8" height="6" fill="#fff" stroke="#222" transform="translate(103.5 212) rotate(62)"/>
<ellipse cx="124.5" cy="220.5" rx="4" ry="3" fill="#fff" stroke="#222" stroke-width="1.2" transform="rotate(-30 124.5 220.5)"/>
<ellipse cx="124.5" cy="220.5" rx="1.8" ry="1.3" fill="#fff" stroke="#222" stroke-width="1" transform="rotate(-30 124.5 220.5)"/>
<polygon points="64.0,229.0 68.0,226.5 100.0,229.5 104.5,233.0 104.0,237.5 99.0,238.5 96.0,234.5 74.0,232.0 70.0,234.5 65.0,233.0" fill="#fff" stroke="#222" stroke-width="1.1" stroke-linejoin="round" />
<polyline points="76.0,230.5 97.0,233.0" fill="none" stroke="#222" stroke-width="1" stroke-linejoin="round" stroke-linecap="round" />
<polyline points="77.0,232.0 96.0,235.5" fill="none" stroke="#222" stroke-width="1" stroke-linejoin="round" stroke-linecap="round" />
<circle cx="68" cy="230.5" r="1.3" fill="none" stroke="#222"/>
<circle cx="100.5" cy="235" r="1.3" fill="none" stroke="#222"/>
<polygon points="104.0,245.0 110.0,242.0 117.0,244.0 123.0,250.0 124.5,270.0 128.0,273.0 126.5,277.0 121.0,277.5 117.5,274.0 118.0,256.0 113.0,253.0 106.0,252.0" fill="#fff" stroke="#222" stroke-width="1.1" stroke-linejoin="round" />
<polyline points="121.0,258.0 122.0,270.0" fill="none" stroke="#222" stroke-width="1" stroke-linejoin="round" stroke-linecap="round" />
<circle cx="110.5" cy="248" r="1.2" fill="none" stroke="#222"/>
<rect x="119.5" y="269" width="6" height="6" rx="2" fill="#fff" stroke="#222"/>
<g transform="translate(66 253) rotate(160.1)"><rect x="0" y="-1.9" width="15.1" height="3.8" fill="#fff" stroke="#222" stroke-width="1.1"/><line x1="1.5" y1="-1.9" x2="1.5" y2="1.9" stroke="#222" stroke-width="0.8"/><line x1="3.3" y1="-1.9" x2="3.3" y2="1.9" stroke="#222" stroke-width="0.8"/><line x1="5.1" y1="-1.9" x2="5.1" y2="1.9" stroke="#222" stroke-width="0.8"/><line x1="6.9" y1="-1.9" x2="6.9" y2="1.9" stroke="#222" stroke-width="0.8"/><line x1="8.7" y1="-1.9" x2="8.7" y2="1.9" stroke="#222" stroke-width="0.8"/><line x1="10.5" y1="-1.9" x2="10.5" y2="1.9" stroke="#222" stroke-width="0.8"/><line x1="12.3" y1="-1.9" x2="12.3" y2="1.9" stroke="#222" stroke-width="0.8"/><line x1="14.1" y1="-1.9" x2="14.1" y2="1.9" stroke="#222" stroke-width="0.8"/><rect x="15.1" y="-3.2" width="4" height="6.4" rx="1" fill="#fff" stroke="#222" stroke-width="1.3"/><line x1="15.1" y1="0" x2="19.1" y2="0" stroke="#222" stroke-width="0.8"/></g>
<line x1="66" y1="253" x2="100" y2="234" stroke="#444" stroke-width="1" stroke-dasharray="7 1.5 1.5 1.5"/>
<line x1="54.5" y1="263.5" x2="54.5" y2="286" stroke="#444" stroke-width="1" />
<line x1="90.5" y1="284" x2="90.5" y2="305" stroke="#444" stroke-width="1" />
<line x1="188.5" y1="232" x2="188.5" y2="254" stroke="#444" stroke-width="1" />
<line x1="158.5" y1="243.5" x2="158.5" y2="265.5" stroke="#444" stroke-width="1" />
<polyline points="126.6,222.2 159.0,240.5 177.0,250.5" fill="none" stroke="#444" stroke-width="1" stroke-linejoin="round" stroke-linecap="round" stroke-dasharray="7 1.5 1.5 1.5"/>
<ellipse cx="159" cy="241" rx="2.7" ry="1.8" fill="#fff" stroke="#222" stroke-width="1.5" transform="rotate(60 159 241)"/>
<g transform="translate(177.5 250.5) rotate(32.6)"><rect x="0" y="-1.9" width="10.8" height="3.8" fill="#fff" stroke="#222" stroke-width="1.1"/><line x1="1.5" y1="-1.9" x2="1.5" y2="1.9" stroke="#222" stroke-width="0.8"/><line x1="3.3" y1="-1.9" x2="3.3" y2="1.9" stroke="#222" stroke-width="0.8"/><line x1="5.1" y1="-1.9" x2="5.1" y2="1.9" stroke="#222" stroke-width="0.8"/><line x1="6.9" y1="-1.9" x2="6.9" y2="1.9" stroke="#222" stroke-width="0.8"/><line x1="8.7" y1="-1.9" x2="8.7" y2="1.9" stroke="#222" stroke-width="0.8"/><rect x="10.8" y="-3.2" width="4" height="6.4" rx="1" fill="#fff" stroke="#222" stroke-width="1.3"/><line x1="10.8" y1="0" x2="14.8" y2="0" stroke="#222" stroke-width="0.8"/></g>
<polyline points="477.0,435.0 426.5,465.6 432.0,470.0" fill="none" stroke="#444" stroke-width="1" stroke-linejoin="round" stroke-linecap="round" stroke-dasharray="7 1.5 1.5 1.5"/>
<polyline points="463.0,428.0 477.0,435.0" fill="none" stroke="#444" stroke-width="1" stroke-linejoin="round" stroke-linecap="round" stroke-dasharray="7 1.5 1.5 1.5"/>
<path d="M456.0 424.4 L453.0 430.2 Q450.0 436.0 449.0 442.4 L448.4 445.8 Q447.7 450.3 449.5 454.5 L449.7 454.8 Q451.3 458.6 455.4 458.8 L455.4 458.8 Q459.5 459.0 463.1 457.1 L474.6 451.2 Q480.8 448.0 487.4 445.6 L490.7 444.4 Q497.3 442.0 504.2 441.0 L506.9 440.7 Q513.8 439.7 520.4 437.2 L528.8 434.1 Q532.7 432.6 536.9 432.0 L537.8 431.9 Q541.0 431.4 543.3 433.7 L543.3 433.7 Q545.6 436.0 546.1 439.2 L546.4 440.7 Q546.8 443.0 549.1 443.0 L549.1 443.0 Q551.5 443.0 552.9 441.1 L555.0 438.5" fill="none" stroke="#333" stroke-width="5.0" stroke-linejoin="round" stroke-linecap="round"/>
<path d="M456.0 424.4 L453.0 430.2 Q450.0 436.0 449.0 442.4 L448.4 445.8 Q447.7 450.3 449.5 454.5 L449.7 454.8 Q451.3 458.6 455.4 458.8 L455.4 458.8 Q459.5 459.0 463.1 457.1 L474.6 451.2 Q480.8 448.0 487.4 445.6 L490.7 444.4 Q497.3 442.0 504.2 441.0 L506.9 440.7 Q513.8 439.7 520.4 437.2 L528.8 434.1 Q532.7 432.6 536.9 432.0 L537.8 431.9 Q541.0 431.4 543.3 433.7 L543.3 433.7 Q545.6 436.0 546.1 439.2 L546.4 440.7 Q546.8 443.0 549.1 443.0 L549.1 443.0 Q551.5 443.0 552.9 441.1 L555.0 438.5" fill="none" stroke="#fff" stroke-width="3.0" stroke-linejoin="round" stroke-linecap="round"/>
<polygon points="443.0,414.5 449.0,411.0 462.0,413.0 466.5,418.0 466.0,423.0 459.0,425.0 455.0,421.0 446.0,420.5" fill="#fff" stroke="#222" stroke-width="1.1" stroke-linejoin="round" />
<polyline points="449.0,411.0 450.0,420.0" fill="none" stroke="#222" stroke-width="1" stroke-linejoin="round" stroke-linecap="round" />
<polyline points="457.0,413.0 458.0,424.0" fill="none" stroke="#222" stroke-width="1" stroke-linejoin="round" stroke-linecap="round" />
<circle cx="446.5" cy="417.5" r="1.2" fill="none" stroke="#222"/>
<polyline points="456.0,426.0 458.0,436.0 455.0,440.0" fill="none" stroke="#222" stroke-width="1" stroke-linejoin="round" stroke-linecap="round" />
<polygon points="496.0,430.0 501.0,429.0 502.0,436.0 500.5,452.0 497.0,453.0 496.0,444.0" fill="#fff" stroke="#222" stroke-width="1.1" stroke-linejoin="round" />
<rect x="-4" y="-3.2" width="8" height="6.4" fill="#fff" stroke="#222" transform="translate(503 441) rotate(-12)"/>
<ellipse cx="557.5" cy="439.5" rx="4" ry="3" fill="#fff" stroke="#222" stroke-width="1.2" transform="rotate(-30 557.5 439.5)"/>
<ellipse cx="557.5" cy="439.5" rx="1.8" ry="1.3" fill="#fff" stroke="#222" stroke-width="1" transform="rotate(-30 557.5 439.5)"/>
<g transform="translate(505.5 409) rotate(-150.3)"><rect x="0" y="-1.9" width="12.1" height="3.8" fill="#fff" stroke="#222" stroke-width="1.1"/><line x1="1.5" y1="-1.9" x2="1.5" y2="1.9" stroke="#222" stroke-width="0.8"/><line x1="3.3" y1="-1.9" x2="3.3" y2="1.9" stroke="#222" stroke-width="0.8"/><line x1="5.1" y1="-1.9" x2="5.1" y2="1.9" stroke="#222" stroke-width="0.8"/><line x1="6.9" y1="-1.9" x2="6.9" y2="1.9" stroke="#222" stroke-width="0.8"/><line x1="8.7" y1="-1.9" x2="8.7" y2="1.9" stroke="#222" stroke-width="0.8"/><line x1="10.5" y1="-1.9" x2="10.5" y2="1.9" stroke="#222" stroke-width="0.8"/><rect x="12.1" y="-3.2" width="4" height="6.4" rx="1" fill="#fff" stroke="#222" stroke-width="1.3"/><line x1="12.1" y1="0" x2="16.1" y2="0" stroke="#222" stroke-width="0.8"/></g>
<line x1="501" y1="402.5" x2="521" y2="402.5" stroke="#444" stroke-width="1" />
<ellipse cx="526.3" cy="421.5" rx="2.7" ry="1.8" fill="#fff" stroke="#222" stroke-width="1.5" transform="rotate(-30 526.3 421.5)"/>
<line x1="529" y1="420.5" x2="551.5" y2="420.5" stroke="#444" stroke-width="1" />
<polyline points="505.5,409.5 526.0,421.0 555.0,438.0 578.5,451.0" fill="none" stroke="#444" stroke-width="1" stroke-linejoin="round" stroke-linecap="round" stroke-dasharray="7 1.5 1.5 1.5"/>
<ellipse cx="578.7" cy="452" rx="2.7" ry="1.8" fill="#fff" stroke="#222" stroke-width="1.5" transform="rotate(60 578.7 452)"/>
<line x1="578.5" y1="455" x2="578.5" y2="475" stroke="#444" stroke-width="1" />
<line x1="481.5" y1="449" x2="481.5" y2="471.5" stroke="#444" stroke-width="1" />
<g transform="translate(432.5 470.5) rotate(28.0)"><rect x="0" y="-1.9" width="14.1" height="3.8" fill="#fff" stroke="#222" stroke-width="1.1"/><line x1="1.5" y1="-1.9" x2="1.5" y2="1.9" stroke="#222" stroke-width="0.8"/><line x1="3.3" y1="-1.9" x2="3.3" y2="1.9" stroke="#222" stroke-width="0.8"/><line x1="5.1" y1="-1.9" x2="5.1" y2="1.9" stroke="#222" stroke-width="0.8"/><line x1="6.9" y1="-1.9" x2="6.9" y2="1.9" stroke="#222" stroke-width="0.8"/><line x1="8.7" y1="-1.9" x2="8.7" y2="1.9" stroke="#222" stroke-width="0.8"/><line x1="10.5" y1="-1.9" x2="10.5" y2="1.9" stroke="#222" stroke-width="0.8"/><line x1="12.3" y1="-1.9" x2="12.3" y2="1.9" stroke="#222" stroke-width="0.8"/><rect x="14.1" y="-3.2" width="4" height="6.4" rx="1" fill="#fff" stroke="#222" stroke-width="1.3"/><line x1="14.1" y1="0" x2="18.1" y2="0" stroke="#222" stroke-width="0.8"/></g>
<line x1="446.5" y1="482.5" x2="446.5" y2="501" stroke="#444" stroke-width="1" />
<g transform="translate(864 27) rotate(-66.3)"><rect x="0" y="-2.2" width="9.2" height="4.4" fill="#fff" stroke="#222" stroke-width="1.1"/><line x1="1.5" y1="-2.2" x2="1.5" y2="2.2" stroke="#222" stroke-width="0.8"/><line x1="3.3" y1="-2.2" x2="3.3" y2="2.2" stroke="#222" stroke-width="0.8"/><line x1="5.1" y1="-2.2" x2="5.1" y2="2.2" stroke="#222" stroke-width="0.8"/><line x1="6.9" y1="-2.2" x2="6.9" y2="2.2" stroke="#222" stroke-width="0.8"/><rect x="9.2" y="-4" width="4.5" height="8" rx="1" fill="#fff" stroke="#222" stroke-width="1.3"/><line x1="9.2" y1="0" x2="13.7" y2="0" stroke="#222" stroke-width="0.8"/></g>
<ellipse cx="855.5" cy="39.5" rx="2.7" ry="1.8" fill="#fff" stroke="#222" stroke-width="1.5" transform="rotate(20 855.5 39.5)"/>
<ellipse cx="834.5" cy="72.5" rx="2.7" ry="1.8" fill="#fff" stroke="#222" stroke-width="1.5" transform="rotate(20 834.5 72.5)"/>
<ellipse cx="842" cy="54" rx="4" ry="3" fill="#fff" stroke="#222" stroke-width="1.2" transform="rotate(-20 842 54)"/>
<ellipse cx="842" cy="54" rx="1.8" ry="1.3" fill="#fff" stroke="#222" stroke-width="1" transform="rotate(-20 842 54)"/>
<polygon points="843.4,53.8 862.5,66.5 876.6,79.3 883.7,90.6 888.0,99.1 891.5,106.0 893.5,107.3 895.2,105.5 894.3,99.1 890.8,87.8 879.5,75.0 865.3,63.7 845.5,52.4" fill="#fff" stroke="#222" stroke-width="1.1" stroke-linejoin="round" />
<rect x="-4" y="-2.2" width="8" height="4.4" fill="#fff" stroke="#222" transform="translate(858 61.5) rotate(36)"/>
<polygon points="882.0,74.0 887.0,71.0 897.0,69.5 899.0,74.0 897.0,78.0 890.0,80.0 886.0,86.0 882.5,85.0 883.0,79.0" fill="#fff" stroke="#222" stroke-width="1.1" stroke-linejoin="round" />
<circle cx="886" cy="82" r="1.3" fill="none" stroke="#222"/>
<polyline points="888.0,75.0 896.0,73.5" fill="none" stroke="#222" stroke-width="1" stroke-linejoin="round" stroke-linecap="round" />
<path d="M919.0 193.5 L930.8 199.8 Q933.0 201.0 935.0 202.5 L935.4 202.8 Q937.0 204.0 937.0 206.0 L937.0 206.0 Q937.0 208.0 935.1 208.7 L934.5 209.0 Q932.0 210.0 929.4 210.5 L925.0 211.3" fill="none" stroke="#333" stroke-width="5.4" stroke-linejoin="round" stroke-linecap="round"/>
<path d="M919.0 193.5 L930.8 199.8 Q933.0 201.0 935.0 202.5 L935.4 202.8 Q937.0 204.0 937.0 206.0 L937.0 206.0 Q937.0 208.0 935.1 208.7 L934.5 209.0 Q932.0 210.0 929.4 210.5 L925.0 211.3" fill="none" stroke="#fff" stroke-width="3.4" stroke-linejoin="round" stroke-linecap="round"/>
<ellipse cx="923.6" cy="211.5" rx="1.5" ry="2.6" fill="#fff" stroke="#222" transform="rotate(15 923.8 211)"/>
<polyline points="921.0,211.0 911.0,213.5 913.5,230.0" fill="none" stroke="#444" stroke-width="1" stroke-linejoin="round" stroke-linecap="round" stroke-dasharray="7 1.5 1.5 1.5"/>
<polygon points="1055.0,327.0 1058.0,324.0 1067.0,327.0 1071.0,324.0 1079.0,327.5 1083.5,333.5 1077.0,337.5 1069.0,333.0 1066.0,330.5 1060.0,333.0 1058.5,337.5 1055.0,336.5" fill="#fff" stroke="#222" stroke-width="1.1" stroke-linejoin="round" />
<polygon points="1069.0,329.0 1077.0,326.5 1082.5,333.0 1075.0,336.0" fill="#fff" stroke="#222" stroke-width="1" stroke-linejoin="round" />
<circle cx="1059" cy="329" r="1.2" fill="none" stroke="#222"/>
<path d="M1075.0 340.0 L1075.8 343.5 Q1076.5 347.0 1077.9 350.3 L1078.2 351.0 Q1080.0 355.0 1082.4 358.6 L1083.0 359.6 Q1085.0 362.5 1087.5 365.0 L1087.7 365.2 Q1090.0 367.5 1093.0 368.8 L1093.0 368.8 Q1096.0 370.0 1099.2 370.0 L1099.2 370.0 Q1102.5 370.0 1105.2 368.3 L1105.9 367.8 Q1108.0 366.5 1109.0 364.2 L1109.2 363.8 Q1110.0 362.0 1111.5 360.8 L1111.5 360.8 Q1113.0 359.5 1114.9 360.1 L1118.0 361.0" fill="none" stroke="#333" stroke-width="5.0" stroke-linejoin="round" stroke-linecap="round"/>
<path d="M1075.0 340.0 L1075.8 343.5 Q1076.5 347.0 1077.9 350.3 L1078.2 351.0 Q1080.0 355.0 1082.4 358.6 L1083.0 359.6 Q1085.0 362.5 1087.5 365.0 L1087.7 365.2 Q1090.0 367.5 1093.0 368.8 L1093.0 368.8 Q1096.0 370.0 1099.2 370.0 L1099.2 370.0 Q1102.5 370.0 1105.2 368.3 L1105.9 367.8 Q1108.0 366.5 1109.0 364.2 L1109.2 363.8 Q1110.0 362.0 1111.5 360.8 L1111.5 360.8 Q1113.0 359.5 1114.9 360.1 L1118.0 361.0" fill="none" stroke="#fff" stroke-width="3.0" stroke-linejoin="round" stroke-linecap="round"/>
<rect x="-3.5" y="-3" width="7" height="6" fill="#fff" stroke="#222" transform="translate(1075.5 341) rotate(78)"/>
<ellipse cx="1123" cy="363.5" rx="4" ry="3" fill="#fff" stroke="#222" stroke-width="1.2" transform="rotate(25 1123 363.5)"/>
<ellipse cx="1123" cy="363.5" rx="1.8" ry="1.3" fill="#fff" stroke="#222" stroke-width="1" transform="rotate(25 1123 363.5)"/>
<ellipse cx="1127.5" cy="367" rx="2.2" ry="1.8" fill="#fff" stroke="#222"/>
<g transform="translate(1146 334) rotate(-66.0)"><rect x="0" y="-2.2" width="10.3" height="4.4" fill="#fff" stroke="#222" stroke-width="1.1"/><line x1="1.5" y1="-2.2" x2="1.5" y2="2.2" stroke="#222" stroke-width="0.8"/><line x1="3.3" y1="-2.2" x2="3.3" y2="2.2" stroke="#222" stroke-width="0.8"/><line x1="5.1" y1="-2.2" x2="5.1" y2="2.2" stroke="#222" stroke-width="0.8"/><line x1="6.9" y1="-2.2" x2="6.9" y2="2.2" stroke="#222" stroke-width="0.8"/><line x1="8.7" y1="-2.2" x2="8.7" y2="2.2" stroke="#222" stroke-width="0.8"/><rect x="10.3" y="-4" width="4.5" height="8" rx="1" fill="#fff" stroke="#222" stroke-width="1.3"/><line x1="10.3" y1="0" x2="14.8" y2="0" stroke="#222" stroke-width="0.8"/></g>
<ellipse cx="1137" cy="347.5" rx="2.7" ry="1.8" fill="#fff" stroke="#222" stroke-width="1.5" transform="rotate(20 1137 347.5)"/>
<ellipse cx="1112" cy="387" rx="2.7" ry="1.8" fill="#fff" stroke="#222" stroke-width="1.5" transform="rotate(20 1112 387)"/>
<g transform="translate(48.5 555.5)"><polygon points="-5,-3 -2,-6 3,-5.5 5.5,-2 5,3 1.5,6 -3.5,5 -5.5,1" fill="#fff" stroke="#222" stroke-width="1.4"/><ellipse cx="0.5" cy="0.5" rx="2.6" ry="2.2" fill="#fff" stroke="#222" stroke-width="1.2"/></g>
<g transform="translate(208 585) scale(1)"><path d="M0,-9 C4,-11 8,-8 8,-3 L7,2 L2,3 L-3,1 L-4,-5 Z" fill="#fff" stroke="#222" stroke-width="1.1"/><circle cx="2" cy="-3.5" r="2" fill="none" stroke="#222"/><path d="M2,-8 L2.5,-12" stroke="#222" fill="none"/><rect x="-1" y="3" width="5" height="8" fill="#fff" stroke="#222" stroke-width="1.1"/><rect x="-11" y="-1" width="6" height="5" rx="1" fill="#fff" stroke="#222" stroke-width="1.1"/><rect x="-10" y="4" width="4" height="4" fill="#fff" stroke="#222"/><path d="M-5,1 L-1,3" stroke="#222"/></g>
<circle cx="914" cy="452.7" r="9.0" fill="#fff" stroke="#444" stroke-width="1"/>
<text x="914" y="456.9" font-size="14.5" fill="#1a1a1a" text-anchor="middle">a</text>
<circle cx="1023.2" cy="452.7" r="9.0" fill="#fff" stroke="#444" stroke-width="1"/>
<text x="1023.2" y="457.7" font-size="14.5" fill="#1a1a1a" text-anchor="middle">b</text>
<circle cx="1132.2" cy="452.7" r="9.0" fill="#fff" stroke="#444" stroke-width="1"/>
<text x="1132.2" y="456.9" font-size="14.5" fill="#1a1a1a" text-anchor="middle">c</text>
<circle cx="914" cy="552" r="9.0" fill="#fff" stroke="#444" stroke-width="1"/>
<text x="914" y="557" font-size="14.5" fill="#1a1a1a" text-anchor="middle">d</text>
<circle cx="1023.2" cy="552" r="9.0" fill="#fff" stroke="#444" stroke-width="1"/>
<text x="1023.2" y="556.2" font-size="14.5" fill="#1a1a1a" text-anchor="middle">e</text>
<circle cx="1132.2" cy="552" r="9.0" fill="#fff" stroke="#444" stroke-width="1"/>
<text x="1132.2" y="557" font-size="14.5" fill="#1a1a1a" text-anchor="middle">f</text>
<circle cx="695.4" cy="651.2" r="9.0" fill="#fff" stroke="#444" stroke-width="1"/>
<text x="695.4" y="654.4000000000001" font-size="14.5" fill="#1a1a1a" text-anchor="middle">g</text>
<circle cx="805" cy="651.2" r="9.0" fill="#fff" stroke="#444" stroke-width="1"/>
<text x="805" y="656.2" font-size="14.5" fill="#1a1a1a" text-anchor="middle">h</text>
<circle cx="913.5" cy="651.2" r="9.0" fill="#fff" stroke="#444" stroke-width="1"/>
<text x="913.5" y="656.2" font-size="14.5" fill="#1a1a1a" text-anchor="middle">i</text>
<circle cx="1022.9" cy="651.2" r="9.0" fill="#fff" stroke="#444" stroke-width="1"/>
<text x="1022.9" y="654.4000000000001" font-size="14.5" fill="#1a1a1a" text-anchor="middle">j</text>
<circle cx="586.5" cy="750" r="9.0" fill="#fff" stroke="#444" stroke-width="1"/>
<text x="586.5" y="755" font-size="14.5" fill="#1a1a1a" text-anchor="middle">k</text>
<circle cx="695.6" cy="750" r="9.0" fill="#fff" stroke="#444" stroke-width="1"/>
<text x="695.6" y="755" font-size="14.5" fill="#1a1a1a" text-anchor="middle">l</text>
<circle cx="804.4" cy="750" r="9.0" fill="#fff" stroke="#444" stroke-width="1"/>
<text x="804.4" y="754.2" font-size="14" fill="#1a1a1a" text-anchor="middle">m</text>
<circle cx="913.5" cy="749.8" r="9.0" fill="#fff" stroke="#444" stroke-width="1"/>
<text x="913.5" y="754.0" font-size="14.5" fill="#1a1a1a" text-anchor="middle">n</text>
<circle cx="1024.7" cy="749.8" r="9.0" fill="#fff" stroke="#444" stroke-width="1"/>
<text x="1024.7" y="755.0999999999999" font-size="15" fill="#1a1a1a" text-anchor="middle">O</text>
<polygon points="911.5,481.0 916.0,477.5 924.0,477.5 928.5,481.0 928.5,492.5 924.0,495.5 916.0,495.5 911.5,492.5" fill="#fff" stroke="#2a2a2a" stroke-width="1.1" stroke-linejoin="round" />
<polyline points="916.0,483.0 916.0,495.5" fill="none" stroke="#2a2a2a" stroke-width="1" stroke-linejoin="round" stroke-linecap="round" />
<polyline points="924.0,483.0 924.0,495.5" fill="none" stroke="#2a2a2a" stroke-width="1" stroke-linejoin="round" stroke-linecap="round" />
<polyline points="911.5,481.0 916.0,483.0 924.0,483.0 928.5,481.0" fill="none" stroke="#2a2a2a" stroke-width="1" stroke-linejoin="round" stroke-linecap="round" />
<ellipse cx="920.0" cy="480.3" rx="1.8" ry="1.3" fill="#fff" stroke="#2a2a2a"/>
<polygon points="914.0,495.5 926.0,495.5 926.0,506.5 923.0,510.0 917.0,510.0 914.0,506.5" fill="#fff" stroke="#2a2a2a" stroke-width="1.1" stroke-linejoin="round" />
<polyline points="914.0,505.5 926.0,505.5" fill="none" stroke="#2a2a2a" stroke-width="1" stroke-linejoin="round" stroke-linecap="round" />
<line x1="928" y1="491.5" x2="948" y2="491.5" stroke="#444" stroke-width="1" />
<polygon points="1020.5,578.5 1025.0,575.0 1033.0,575.0 1037.5,578.5 1037.5,590.0 1033.0,593.0 1025.0,593.0 1020.5,590.0" fill="#fff" stroke="#2a2a2a" stroke-width="1.1" stroke-linejoin="round" />
<polyline points="1025.0,580.5 1025.0,593.0" fill="none" stroke="#2a2a2a" stroke-width="1" stroke-linejoin="round" stroke-linecap="round" />
<polyline points="1033.0,580.5 1033.0,593.0" fill="none" stroke="#2a2a2a" stroke-width="1" stroke-linejoin="round" stroke-linecap="round" />
<polyline points="1020.5,578.5 1025.0,580.5 1033.0,580.5 1037.5,578.5" fill="none" stroke="#2a2a2a" stroke-width="1" stroke-linejoin="round" stroke-linecap="round" />
<ellipse cx="1029.0" cy="577.8" rx="1.8" ry="1.3" fill="#fff" stroke="#2a2a2a"/>
<polygon points="1023.0,593.0 1035.0,593.0 1035.0,604.0 1032.0,607.5 1026.0,607.5 1023.0,604.0" fill="#fff" stroke="#2a2a2a" stroke-width="1.1" stroke-linejoin="round" />
<polyline points="1023.0,603.0 1035.0,603.0" fill="none" stroke="#2a2a2a" stroke-width="1" stroke-linejoin="round" stroke-linecap="round" />
<line x1="1037" y1="590.5" x2="1056.5" y2="590.5" stroke="#444" stroke-width="1" />
<line x1="1066.5" y1="472" x2="1066.5" y2="492.3" stroke="#444" stroke-width="1" />
<path d="M1057.2,503.4 L1067.2,495.4 A8,8 0 0 1 1078.9,506.1 L1068.9,514.1 Z" fill="#fff" stroke="#2a2a2a" stroke-width="1.1" stroke-linejoin="round"/>
<path d="M1056.5,504.6 A8,8 0 1 1 1056.9,512.0 L1061.1,509.6 A3.1,3.1 0 1 0 1061.0,506.7 Z" fill="#fff" stroke="#2a2a2a" stroke-width="1.1" stroke-linejoin="round"/>
<path d="M1061.0,506.7 l3,-2.3" stroke="#2a2a2a" fill="none"/>
<line x1="1178.5" y1="474.6" x2="1178.5" y2="493.2" stroke="#444" stroke-width="1" />
<g transform="translate(1176 506)"><path d="M-14.3,-8.3 L-9.9,-11 L-7.2,-7.4 L-1.9,-12.8 L1.7,-12.8 L13.2,-3 L11.4,0.5 L4.3,2.3 L12.3,7.6 L8.8,12.1 L4.3,13 L-6.3,6.7 L-8.1,2.3 L-11.6,1.4 L-12.5,-4.8 Z" fill="#fff" stroke="#2a2a2a" stroke-width="1.1" stroke-linejoin="round"/><path d="M-1.9,-12.8 L-5.4,-5.7 L-7.2,5 M-5.4,-5.7 L7,0.5 L13.2,-3 M-2.8,1.4 L1.7,4.1 L4.3,2.3 M1.7,4.1 L4.3,13 M-7.2,-7.4 L-8.1,2.3 M1.7,4.1 L-3,6 M7,0.5 L4.3,2.3" fill="none" stroke="#2a2a2a" stroke-linejoin="round"/></g>
<line x1="1181.5" y1="580" x2="1181.5" y2="600.5" stroke="#444" stroke-width="1" />
<g transform="translate(1179.5 613.5)"><path d="M-14.3,-8.3 L-9.9,-11 L-7.2,-7.4 L-1.9,-12.8 L1.7,-12.8 L13.2,-3 L11.4,0.5 L4.3,2.3 L12.3,7.6 L8.8,12.1 L4.3,13 L-6.3,6.7 L-8.1,2.3 L-11.6,1.4 L-12.5,-4.8 Z" fill="#fff" stroke="#2a2a2a" stroke-width="1.1" stroke-linejoin="round"/><path d="M-1.9,-12.8 L-5.4,-5.7 L-7.2,5 M-5.4,-5.7 L7,0.5 L13.2,-3 M-2.8,1.4 L1.7,4.1 L4.3,2.3 M1.7,4.1 L4.3,13 M-7.2,-7.4 L-8.1,2.3 M1.7,4.1 L-3,6 M7,0.5 L4.3,2.3" fill="none" stroke="#2a2a2a" stroke-linejoin="round"/></g>
<line x1="935.5" y1="576" x2="935.5" y2="596.6" stroke="#444" stroke-width="1" />
<g transform="translate(948.5 594) rotate(152.1)"><rect x="0" y="-2.0" width="14.7" height="4.0" fill="#fff" stroke="#222" stroke-width="1.1"/><line x1="1.5" y1="-2.0" x2="1.5" y2="2.0" stroke="#222" stroke-width="0.8"/><line x1="3.3" y1="-2.0" x2="3.3" y2="2.0" stroke="#222" stroke-width="0.8"/><line x1="5.1" y1="-2.0" x2="5.1" y2="2.0" stroke="#222" stroke-width="0.8"/><line x1="6.9" y1="-2.0" x2="6.9" y2="2.0" stroke="#222" stroke-width="0.8"/><line x1="8.7" y1="-2.0" x2="8.7" y2="2.0" stroke="#222" stroke-width="0.8"/><line x1="10.5" y1="-2.0" x2="10.5" y2="2.0" stroke="#222" stroke-width="0.8"/><line x1="12.3" y1="-2.0" x2="12.3" y2="2.0" stroke="#222" stroke-width="0.8"/><line x1="14.1" y1="-2.0" x2="14.1" y2="2.0" stroke="#222" stroke-width="0.8"/><rect x="14.7" y="-3.8" width="4.5" height="7.6" rx="1" fill="#fff" stroke="#222" stroke-width="1.3"/><line x1="14.7" y1="0" x2="19.2" y2="0" stroke="#222" stroke-width="0.8"/></g>
<line x1="948.6" y1="593.6" x2="971.6" y2="579.5" stroke="#444" stroke-width="1" stroke-dasharray="7 1.5 1.5 1.5"/>
<polygon points="970.4,552.4 979.8,545.9 983.3,546.5 990.4,551.8 989.2,555.3 984.5,557.7 989.2,562.4 984.5,563.6 989.8,567.7 991.6,570.7 992.2,577.7 984.5,581.3 989.8,586.6 983.3,591.3 978.6,589.5 978.6,584.8 971.6,584.8 970.4,578.9" fill="#fff" stroke="#2a2a2a" stroke-width="1.1" stroke-linejoin="round" />
<polyline points="975.1,551.2 975.7,574.2" fill="none" stroke="#2a2a2a" stroke-width="1" stroke-linejoin="round" stroke-linecap="round" />
<polyline points="978.6,549.4 979.2,575.4 984.5,581.3" fill="none" stroke="#2a2a2a" stroke-width="1" stroke-linejoin="round" stroke-linecap="round" />
<polyline points="970.4,552.4 975.1,551.2 979.8,545.9" fill="none" stroke="#2a2a2a" stroke-width="1" stroke-linejoin="round" stroke-linecap="round" />
<polyline points="979.2,556.0 984.5,557.7" fill="none" stroke="#2a2a2a" stroke-width="1" stroke-linejoin="round" stroke-linecap="round" />
<polyline points="979.2,562.0 984.5,563.6" fill="none" stroke="#2a2a2a" stroke-width="1" stroke-linejoin="round" stroke-linecap="round" />
<polyline points="979.2,568.0 989.8,567.7" fill="none" stroke="#2a2a2a" stroke-width="1" stroke-linejoin="round" stroke-linecap="round" />
<polyline points="984.5,570.0 984.5,581.3" fill="none" stroke="#2a2a2a" stroke-width="1" stroke-linejoin="round" stroke-linecap="round" />
<polyline points="978.6,584.8 983.3,587.0 983.3,591.3" fill="none" stroke="#2a2a2a" stroke-width="1" stroke-linejoin="round" stroke-linecap="round" />
<circle cx="975.7" cy="577.7" r="3.6" fill="#fff" stroke="#2a2a2a"/>
<circle cx="975.7" cy="577.7" r="1.5" fill="#fff" stroke="#2a2a2a"/>
<line x1="976.5" y1="589.5" x2="976.5" y2="610.7" stroke="#444" stroke-width="1" />
<line x1="737.5" y1="697" x2="737.5" y2="712" stroke="#444" stroke-width="1" />
<g transform="translate(731 720)"><path d="M-15.2,-5.5 L-4.5,-13.5 L15,-3.7 L15,6.1 L4.3,13.2 L-15.2,4.3 Z" fill="#fff" stroke="#2a2a2a" stroke-width="1.2" stroke-linejoin="round"/><path d="M-15.2,-5.5 L4.3,2.5 L15,-3.7 M4.3,2.5 L4.3,13.2" fill="none" stroke="#2a2a2a"/><circle cx="-9" cy="1.8" r="3.4" fill="#fff" stroke="#2a2a2a" stroke-width="1.2"/><circle cx="-0.6" cy="5.2" r="3.4" fill="#fff" stroke="#2a2a2a" stroke-width="1.2"/><path d="M5.5,-5 L5.5,0 C7,2 9,1 9.5,-1 L9.5,-4.5 M4.3,7 L15,1" fill="none" stroke="#2a2a2a"/></g>
<line x1="1066.5" y1="781.2" x2="1066.5" y2="798.5" stroke="#444" stroke-width="1" />
<g transform="translate(1062.7 811)"><path d="M-15.2,-5.5 L-4.5,-13.5 L15,-3.7 L15,6.1 L4.3,13.2 L-15.2,4.3 Z" fill="#fff" stroke="#2a2a2a" stroke-width="1.2" stroke-linejoin="round"/><path d="M-15.2,-5.5 L4.3,2.5 L15,-3.7 M4.3,2.5 L4.3,13.2" fill="none" stroke="#2a2a2a"/><circle cx="-9" cy="1.8" r="3.4" fill="#fff" stroke="#2a2a2a" stroke-width="1.2"/><circle cx="-0.6" cy="5.2" r="3.4" fill="#fff" stroke="#2a2a2a" stroke-width="1.2"/><path d="M5.5,-5 L5.5,0 C7,2 9,1 9.5,-1 L9.5,-4.5 M4.3,7 L15,1" fill="none" stroke="#2a2a2a"/></g>
<g transform="translate(838.5 686.5) rotate(153.4)"><rect x="0" y="-1.9" width="12.8" height="3.8" fill="#fff" stroke="#222" stroke-width="1.1"/><line x1="1.5" y1="-1.9" x2="1.5" y2="1.9" stroke="#222" stroke-width="0.8"/><line x1="3.3" y1="-1.9" x2="3.3" y2="1.9" stroke="#222" stroke-width="0.8"/><line x1="5.1" y1="-1.9" x2="5.1" y2="1.9" stroke="#222" stroke-width="0.8"/><line x1="6.9" y1="-1.9" x2="6.9" y2="1.9" stroke="#222" stroke-width="0.8"/><line x1="8.7" y1="-1.9" x2="8.7" y2="1.9" stroke="#222" stroke-width="0.8"/><line x1="10.5" y1="-1.9" x2="10.5" y2="1.9" stroke="#222" stroke-width="0.8"/><rect x="12.8" y="-3.6" width="4" height="7.2" rx="1" fill="#fff" stroke="#222" stroke-width="1.3"/><line x1="12.8" y1="0" x2="16.8" y2="0" stroke="#222" stroke-width="0.8"/></g>
<line x1="838.5" y1="686.5" x2="851.6" y2="678" stroke="#444" stroke-width="1" stroke-dasharray="7 1.5 1.5 1.5"/>
<g stroke="#2a2a2a" fill="#fff" stroke-width="1.1" stroke-linejoin="round"><path d="M869,655 C872,652 877,653 879,656 C882,660 882,668 880,673 L868,672 L866,663 Z"/><path d="M875,652.5 L876,649"/><circle cx="873.5" cy="664.5" r="3.3"/><circle cx="873.5" cy="664.5" r="1.3"/><path d="M852,672 L856,668 L880,672 L881,679 L876,681 L853,677 Z"/><rect x="854.5" y="677" width="8" height="7" /><ellipse cx="857.5" cy="669.5" rx="3.6" ry="3"/><ellipse cx="857.5" cy="668.8" rx="1.8" ry="1.4"/><rect x="870" y="681" width="8.5" height="10" rx="1"/><ellipse cx="874" cy="678.5" rx="3.8" ry="3"/><ellipse cx="874" cy="678" rx="1.8" ry="1.4"/></g>
<line x1="859.5" y1="684.5" x2="859.5" y2="700.5" stroke="#444" stroke-width="1" />
<line x1="828.5" y1="697" x2="828.5" y2="718" stroke="#444" stroke-width="1" />
<line x1="965" y1="666.5" x2="983.5" y2="666.5" stroke="#444" stroke-width="1" />
<circle cx="986.7" cy="665" r="1.6" fill="#fff" stroke="#2a2a2a"/>
<line x1="987.5" y1="666" x2="987.5" y2="683" stroke="#444" stroke-width="1" stroke-dasharray="7 1.5 1.5 1.5"/>
<g transform="translate(981 697)"><path d="M-25,-12 L-20,-17 L-14,-15 L-12,-9 L-8,-11 L-6,-6 L-8,6 L-14,8 L-22,2 L-24,-6 Z" fill="#fff" stroke="#2a2a2a" stroke-width="1.1"/><path d="M-20,-17 L-18,-8 L-12,-9 M-18,-8 L-20,-2 L-14,2 L-14,8 M-20,-2 L-24,-6" fill="none" stroke="#2a2a2a"/><path d="M-6,-10 L2,-14 L20,-2 L26,4 L26,14 L20,19 L12,17 L-6,6 Z" fill="#fff" stroke="#2a2a2a" stroke-width="1.2"/><path d="M-6,-10 L-2,-4 L18,8 L20,19 M18,8 L26,4 M-2,-4 L-3,7" fill="none" stroke="#2a2a2a"/><ellipse cx="4" cy="5" rx="3.6" ry="4.4" fill="#fff" stroke="#2a2a2a" stroke-width="1.2" transform="rotate(-20 4 5)"/><ellipse cx="12.5" cy="10" rx="3.6" ry="4.4" fill="#fff" stroke="#2a2a2a" stroke-width="1.2" transform="rotate(-20 12.5 10)"/><rect x="1" y="-9" width="4" height="3.4" fill="#fff" stroke="#2a2a2a" transform="rotate(30 3 -7)"/></g>
<line x1="959.5" y1="693.2" x2="959.5" y2="715.8" stroke="#444" stroke-width="1" />
<g transform="translate(852 802)"><path d="M-25,-12 L-20,-17 L-14,-15 L-12,-9 L-8,-11 L-6,-6 L-8,6 L-14,8 L-22,2 L-24,-6 Z" fill="#fff" stroke="#2a2a2a" stroke-width="1.1"/><path d="M-20,-17 L-18,-8 L-12,-9 M-18,-8 L-20,-2 L-14,2 L-14,8 M-20,-2 L-24,-6" fill="none" stroke="#2a2a2a"/><path d="M-6,-10 L2,-14 L20,-2 L26,4 L26,14 L20,19 L12,17 L-6,6 Z" fill="#fff" stroke="#2a2a2a" stroke-width="1.2"/><path d="M-6,-10 L-2,-4 L18,8 L20,19 M18,8 L26,4 M-2,-4 L-3,7" fill="none" stroke="#2a2a2a"/><ellipse cx="4" cy="5" rx="3.6" ry="4.4" fill="#fff" stroke="#2a2a2a" stroke-width="1.2" transform="rotate(-20 4 5)"/><ellipse cx="12.5" cy="10" rx="3.6" ry="4.4" fill="#fff" stroke="#2a2a2a" stroke-width="1.2" transform="rotate(-20 12.5 10)"/><rect x="1" y="-9" width="4" height="3.4" fill="#fff" stroke="#2a2a2a" transform="rotate(30 3 -7)"/></g>
<line x1="855.5" y1="769.5" x2="855.5" y2="790" stroke="#444" stroke-width="1" />
<line x1="1104.6" y1="672.5" x2="1124" y2="672.5" stroke="#444" stroke-width="1" />
<line x1="1100.6" y1="698.5" x2="1120.5" y2="698.5" stroke="#444" stroke-width="1" />
<line x1="1095.3" y1="725.5" x2="1115" y2="725.5" stroke="#444" stroke-width="1" />
<line x1="1197.5" y1="656" x2="1197.5" y2="674.6" stroke="#444" stroke-width="1" />
<line x1="1177.5" y1="697.2" x2="1177.5" y2="717.2" stroke="#444" stroke-width="1" />
<polygon points="1123.0,668.0 1129.0,664.0 1152.0,673.0 1152.5,683.0 1147.0,687.5 1123.5,678.5" fill="#fff" stroke="#2a2a2a" stroke-width="1.1" stroke-linejoin="round" />
<polyline points="1123.0,668.0 1146.5,677.0 1152.0,673.0" fill="none" stroke="#2a2a2a" stroke-width="1" stroke-linejoin="round" stroke-linecap="round" />
<polyline points="1146.5,677.0 1147.0,687.5" fill="none" stroke="#2a2a2a" stroke-width="1" stroke-linejoin="round" stroke-linecap="round" />
<ellipse cx="1133.5" cy="677.5" rx="2" ry="2.4" fill="#fff" stroke="#2a2a2a"/>
<polyline points="1129.0,664.0 1129.0,667.0" fill="none" stroke="#2a2a2a" stroke-width="1" stroke-linejoin="round" stroke-linecap="round" />
<polyline points="1136.0,667.0 1136.0,670.0" fill="none" stroke="#2a2a2a" stroke-width="1" stroke-linejoin="round" stroke-linecap="round" />
<polygon points="1118.0,688.0 1123.0,683.5 1128.0,684.0 1157.0,699.0 1157.5,709.0 1152.0,714.5 1146.0,712.0 1146.0,707.0 1118.5,697.0" fill="#fff" stroke="#2a2a2a" stroke-width="1.1" stroke-linejoin="round" />
<polyline points="1123.0,683.5 1124.0,693.0 1146.0,703.0 1146.0,707.0" fill="none" stroke="#2a2a2a" stroke-width="1" stroke-linejoin="round" stroke-linecap="round" />
<polyline points="1146.0,703.0 1152.0,699.5" fill="none" stroke="#2a2a2a" stroke-width="1" stroke-linejoin="round" stroke-linecap="round" />
<polyline points="1128.0,684.0 1128.5,694.0" fill="none" stroke="#2a2a2a" stroke-width="1" stroke-linejoin="round" stroke-linecap="round" />
<rect x="1150" y="702" width="5" height="6" fill="#fff" stroke="#2a2a2a"/>
<polyline points="1135.0,715.0 1121.0,725.5" fill="none" stroke="#444" stroke-width="1" stroke-linejoin="round" stroke-linecap="round" stroke-dasharray="7 1.5 1.5 1.5"/>
<polyline points="1156.5,706.5 1175.0,692.0 1196.0,681.0" fill="none" stroke="#444" stroke-width="1" stroke-linejoin="round" stroke-linecap="round" stroke-dasharray="7 1.5 1.5 1.5"/>
<g transform="translate(1120.6 725.6)"><polygon points="-5,-2 -2,-5 3,-4.5 5.5,-1 4,3.5 0,5 -4,3" fill="#fff" stroke="#222" stroke-width="1.3"/><ellipse cx="0" cy="0" rx="2" ry="1.7" fill="#fff" stroke="#222"/></g>
<g transform="translate(1175 692)"><path d="M-5,-5 C-2,-8 4,-8 6,-4 L6,4 C4,8 -2,8 -5,5 Z" fill="#fff" stroke="#222" stroke-width="1.3"/><ellipse cx="-3.5" cy="0" rx="2.2" ry="5" fill="#fff" stroke="#222"/></g>
<g transform="translate(1196.4 681)"><polygon points="-4,-2 -1,-4.5 3,-4 4.5,-1 3.5,3 0,4.5 -3.5,2.5" fill="#fff" stroke="#222" stroke-width="1.2"/><line x1="-4" y1="0" x2="-7" y2="1.5" stroke="#222"/></g>
<line x1="630.5" y1="767.5" x2="630.5" y2="787" stroke="#444" stroke-width="1" />
<polygon points="606.5,788.5 616.5,779.0 645.5,796.5 645.5,809.0 636.0,817.5 606.5,805.0" fill="#fff" stroke="#2a2a2a" stroke-width="1.1" stroke-linejoin="round" />
<polyline points="606.5,788.5 636.0,805.0 645.5,796.5" fill="none" stroke="#2a2a2a" stroke-width="1" stroke-linejoin="round" stroke-linecap="round" />
<polyline points="636.0,805.0 636.0,817.5" fill="none" stroke="#2a2a2a" stroke-width="1" stroke-linejoin="round" stroke-linecap="round" />
<polyline points="606.5,796.5 636.0,811.0" fill="none" stroke="#2a2a2a" stroke-width="1" stroke-linejoin="round" stroke-linecap="round" />
<polyline points="613.0,792.0 613.0,808.0" fill="none" stroke="#2a2a2a" stroke-width="1" stroke-linejoin="round" stroke-linecap="round" />
<polyline points="619.0,795.0 619.0,810.5" fill="none" stroke="#2a2a2a" stroke-width="1" stroke-linejoin="round" stroke-linecap="round" />
<polyline points="609.0,786.0 622.0,781.5" fill="none" stroke="#2a2a2a" stroke-width="1" stroke-linejoin="round" stroke-linecap="round" />
<polyline points="611.5,784.0 616.0,787.0" fill="none" stroke="#2a2a2a" stroke-width="1" stroke-linejoin="round" stroke-linecap="round" />
<polygon points="622,792 626,788.5 631,791 627,795" fill="#fff" stroke="#2a2a2a"/>
<ellipse cx="636" cy="797.5" rx="3.5" ry="2.4" fill="#fff" stroke="#2a2a2a"/>
<ellipse cx="624" cy="806" rx="2.2" ry="2.8" fill="#fff" stroke="#2a2a2a"/>
<line x1="743.5" y1="769.5" x2="743.5" y2="788.5" stroke="#444" stroke-width="1" />
<polygon points="712.5,790.0 720.0,784.0 728.0,781.5 735.0,787.5 741.0,788.0 745.0,785.5 760.5,797.0 760.5,806.0 749.0,817.0 742.0,814.0 741.0,808.0 735.0,806.0 733.0,810.0 727.0,807.0 726.0,800.0 720.0,798.0 718.0,802.0 712.5,799.0" fill="#fff" stroke="#2a2a2a" stroke-width="1.1" stroke-linejoin="round" />
<polyline points="712.5,790.0 720.0,794.0 728.0,791.0 735.0,797.0 749.0,806.0 760.5,797.0" fill="none" stroke="#2a2a2a" stroke-width="1" stroke-linejoin="round" stroke-linecap="round" />
<polyline points="749.0,806.0 749.0,817.0" fill="none" stroke="#2a2a2a" stroke-width="1" stroke-linejoin="round" stroke-linecap="round" />
<polyline points="735.0,797.0 735.0,806.0" fill="none" stroke="#2a2a2a" stroke-width="1" stroke-linejoin="round" stroke-linecap="round" />
<polyline points="720.0,794.0 720.0,798.0" fill="none" stroke="#2a2a2a" stroke-width="1" stroke-linejoin="round" stroke-linecap="round" />
<polyline points="728.0,781.5 728.0,791.0" fill="none" stroke="#2a2a2a" stroke-width="1" stroke-linejoin="round" stroke-linecap="round" />
<ellipse cx="743.5" cy="791" rx="3" ry="2.4" fill="#fff" stroke="#2a2a2a"/>
<ellipse cx="739" cy="811" rx="2.2" ry="2.6" fill="#fff" stroke="#2a2a2a"/>
<ellipse cx="724.5" cy="804" rx="2.2" ry="2.6" fill="#fff" stroke="#2a2a2a"/>
<line x1="957.5" y1="769.5" x2="957.5" y2="788" stroke="#444" stroke-width="1" />
<g transform="translate(959 802)"><path d="M-15.4,-3.5 L-0.8,-12.8 L15.2,-6.1 L15.2,8.5 L4,14.5 L-0.8,15.2 L-15.4,11.2 Z" fill="#fff" stroke="#2a2a2a" stroke-width="1.2" stroke-linejoin="round"/><path d="M-15.4,-3.5 L1.9,3.2 L15.2,-6.1 M1.9,3.2 L-0.8,15.2" fill="none" stroke="#2a2a2a"/><ellipse cx="3.7" cy="-8.6" rx="3.6" ry="2.3" fill="#fff" stroke="#2a2a2a"/><path d="M7,2 L7,12 M10.5,-0.5 L10.5,10 M4,5 L3,13 M-2,6 L-3,12 L0,13" fill="none" stroke="#2a2a2a"/></g>
<line x1="1175.5" y1="769.5" x2="1175.5" y2="788" stroke="#444" stroke-width="1" />
<g transform="translate(1176.5 802)"><path d="M-15.4,-3.5 L-0.8,-12.8 L15.2,-6.1 L15.2,8.5 L4,14.5 L-0.8,15.2 L-15.4,11.2 Z" fill="#fff" stroke="#2a2a2a" stroke-width="1.2" stroke-linejoin="round"/><path d="M-15.4,-3.5 L1.9,3.2 L15.2,-6.1 M1.9,3.2 L-0.8,15.2" fill="none" stroke="#2a2a2a"/><ellipse cx="3.7" cy="-8.6" rx="3.6" ry="2.3" fill="#fff" stroke="#2a2a2a"/><path d="M7,2 L7,12 M10.5,-0.5 L10.5,10 M4,5 L3,13 M-2,6 L-3,12 L0,13" fill="none" stroke="#2a2a2a"/></g>
<text x="244.5" y="64.5" font-size="15.1" fill="#1a1a1a" stroke="#1a1a1a" stroke-width="0.25" text-anchor="start" >58711J</text>
<text x="68.5" y="153" font-size="15.1" fill="#1a1a1a" stroke="#1a1a1a" stroke-width="0.25" text-anchor="start" >1751GC</text>
<text x="170.5" y="229.5" font-size="15.1" fill="#1a1a1a" stroke="#1a1a1a" stroke-width="0.25" text-anchor="start" >58726</text>
<text x="133.5" y="278.5" font-size="15.1" fill="#1a1a1a" stroke="#1a1a1a" stroke-width="0.25" text-anchor="start" >1751GC</text>
<text x="28" y="296" font-size="15.1" fill="#1a1a1a" stroke="#1a1a1a" stroke-width="0.25" text-anchor="start" >1123AL</text>
<text x="71.5" y="319" font-size="15.1" fill="#1a1a1a" stroke="#1a1a1a" stroke-width="0.25" text-anchor="start" >58732</text>
<text x="566.5" y="127.5" font-size="15.1" fill="#555" stroke="#555" stroke-width="0" text-anchor="start" >REF.58-585</text>
<text x="629.8" y="332" font-size="15.1" fill="#1a1a1a" stroke="#1a1a1a" stroke-width="0.25" text-anchor="start" >58715G</text>
<text x="522.8" y="409" font-size="15.1" fill="#1a1a1a" stroke="#1a1a1a" stroke-width="0.25" text-anchor="start" >58726</text>
<text x="552.7" y="427.2" font-size="15.1" fill="#1a1a1a" stroke="#1a1a1a" stroke-width="0.25" text-anchor="start" >1751GC</text>
<text x="457.2" y="485.2" font-size="15.1" fill="#1a1a1a" stroke="#1a1a1a" stroke-width="0.25" text-anchor="start" >58731A</text>
<text x="553" y="487" font-size="15.1" fill="#1a1a1a" stroke="#1a1a1a" stroke-width="0.25" text-anchor="start" >1751GC</text>
<text x="420" y="515.2" font-size="15.1" fill="#1a1a1a" stroke="#1a1a1a" stroke-width="0.25" text-anchor="start" >1123GV</text>
<text x="682" y="34.5" font-size="15.1" fill="#1a1a1a" stroke="#1a1a1a" stroke-width="0.25" text-anchor="start" >58736B</text>
<text x="896" y="24" font-size="15.1" fill="#1a1a1a" stroke="#1a1a1a" stroke-width="0.25" text-anchor="start" >58726</text>
<text x="778.5" y="46" font-size="15.1" fill="#1a1a1a" stroke="#1a1a1a" stroke-width="0.25" text-anchor="start" >1751GC</text>
<text x="758" y="79" font-size="15.1" fill="#1a1a1a" stroke="#1a1a1a" stroke-width="0.25" text-anchor="start" >1751GC</text>
<text x="923.5" y="82" font-size="15.1" fill="#1a1a1a" stroke="#1a1a1a" stroke-width="0.25" text-anchor="start" >58738E</text>
<text x="812" y="229.5" font-size="15.1" fill="#1a1a1a" stroke="#1a1a1a" stroke-width="0.25" text-anchor="start" >31310</text>
<text x="902" y="169.5" font-size="15.1" fill="#1a1a1a" stroke="#1a1a1a" stroke-width="0.25" text-anchor="start" >31378H</text>
<text x="990" y="173.5" font-size="15.1" fill="#1a1a1a" stroke="#1a1a1a" stroke-width="0.25" text-anchor="start" >58735D</text>
<text x="1006" y="367.5" font-size="15.1" fill="#1a1a1a" stroke="#1a1a1a" stroke-width="0.25" text-anchor="start" >58737D</text>
<text x="1178" y="331" font-size="15.1" fill="#1a1a1a" stroke="#1a1a1a" stroke-width="0.25" text-anchor="start" >58726</text>
<text x="1162.5" y="355" font-size="15.1" fill="#1a1a1a" stroke="#1a1a1a" stroke-width="0.25" text-anchor="start" >1751GC</text>
<text x="1137.5" y="395" font-size="15.1" fill="#1a1a1a" stroke="#1a1a1a" stroke-width="0.25" text-anchor="start" >1751GC</text>
<text x="23" y="527" font-size="15.1" fill="#1a1a1a" stroke="#1a1a1a" stroke-width="0.25" text-anchor="start" >1327AC</text>
<text x="102.5" y="632.5" font-size="15.1" fill="#1a1a1a" stroke="#1a1a1a" stroke-width="0.25" text-anchor="start" >31340</text>
<text x="32.5" y="716" font-size="15.1" fill="#1a1a1a" stroke="#1a1a1a" stroke-width="0.25" text-anchor="start" >31349A</text>
<text x="512.5" y="708" font-size="15.1" fill="#1a1a1a" stroke="#1a1a1a" stroke-width="0.25" text-anchor="start" >31317C</text>
<text x="103" y="772.3" font-size="21" fill="#111" stroke="#111" stroke-width="0.7">FR.</text>
<polygon points="133.0,744.2 139.0,748.0 149.7,742.3 158.9,747.6 148.2,753.4 153.6,756.3 133.0,755.8" fill="#111" stroke="#111" stroke-width="0.5" stroke-linejoin="round" />
<text x="949.8" y="499" font-size="15.1" fill="#1a1a1a" stroke="#1a1a1a" stroke-width="0.25" text-anchor="start" >58754E</text>
<text x="1047.2" y="468.7" font-size="15.1" fill="#1a1a1a" stroke="#1a1a1a" stroke-width="0.25" text-anchor="start" >58753</text>
<text x="1155.9" y="468.7" font-size="15.1" fill="#1a1a1a" stroke="#1a1a1a" stroke-width="0.25" text-anchor="start" >58753F</text>
<text x="909.8" y="574" font-size="15.1" fill="#1a1a1a" stroke="#1a1a1a" stroke-width="0.25" text-anchor="start" >1125DR</text>
<text x="950.7" y="624.2" font-size="15.1" fill="#1a1a1a" stroke="#1a1a1a" stroke-width="0.25" text-anchor="start" >31334D</text>
<text x="1058" y="596.5" font-size="15.1" fill="#1a1a1a" stroke="#1a1a1a" stroke-width="0.25" text-anchor="start" >58754E</text>
<text x="1155.9" y="576.8" font-size="15.1" fill="#1a1a1a" stroke="#1a1a1a" stroke-width="0.25" text-anchor="start" >31365A</text>
<text x="712.3" y="693.4" font-size="15.1" fill="#1a1a1a" stroke="#1a1a1a" stroke-width="0.25" text-anchor="start" >31325A</text>
<text x="841.4" y="715.6" font-size="15.1" fill="#1a1a1a" stroke="#1a1a1a" stroke-width="0.25" text-anchor="start" >58723</text>
<text x="802.8" y="731.4" font-size="15.1" fill="#1a1a1a" stroke="#1a1a1a" stroke-width="0.25" text-anchor="start" >1125DN</text>
<text x="909.8" y="674" font-size="15.1" fill="#1a1a1a" stroke="#1a1a1a" stroke-width="0.25" text-anchor="start" >31125T</text>
<text x="934.3" y="727.8" font-size="15.1" fill="#1a1a1a" stroke="#1a1a1a" stroke-width="0.25" text-anchor="start" >31360H</text>
<text x="1050" y="677.3" font-size="15.1" fill="#1a1a1a" stroke="#1a1a1a" stroke-width="0.25" text-anchor="start" >31327F</text>
<text x="1046" y="704.7" font-size="15.1" fill="#1a1a1a" stroke="#1a1a1a" stroke-width="0.25" text-anchor="start" >31325F</text>
<text x="1037.2" y="730.5" font-size="15.1" fill="#1a1a1a" stroke="#1a1a1a" stroke-width="0.25" text-anchor="start" >1310RA</text>
<text x="1171.6" y="652.8" font-size="15.1" fill="#1a1a1a" stroke="#1a1a1a" stroke-width="0.25" text-anchor="start" >31126B</text>
<text x="1153.3" y="729.1" font-size="15.1" fill="#1a1a1a" stroke="#1a1a1a" stroke-width="0.25" text-anchor="start" >31125M</text>
<text x="605" y="764" font-size="15.1" fill="#1a1a1a" stroke="#1a1a1a" stroke-width="0.25" text-anchor="start" >31356B</text>
<text x="722" y="767" font-size="15.1" fill="#1a1a1a" stroke="#1a1a1a" stroke-width="0.25" text-anchor="start" >33066</text>
<text x="829.3" y="767" font-size="15.1" fill="#1a1a1a" stroke="#1a1a1a" stroke-width="0.25" text-anchor="start" >31358B</text>
<text x="937.7" y="766.6" font-size="15.1" fill="#1a1a1a" stroke="#1a1a1a" stroke-width="0.25" text-anchor="start" >58752</text>
<text x="1042" y="777.2" font-size="15.1" fill="#1a1a1a" stroke="#1a1a1a" stroke-width="0.25" text-anchor="start" >31325G</text>
<text x="1151.1" y="765.8" font-size="15.1" fill="#1a1a1a" stroke="#1a1a1a" stroke-width="0.25" text-anchor="start" >58752B</text>
<text x="30.8" y="50.3" class="wm" filter="url(#gl)" opacity="0.6" stroke="#5c9ee8" stroke-width="1.2">avtochast.ru</text>
<text x="30.8" y="50.3" class="wm" stroke="#5c9ee8" stroke-width="0.6">avtochast.ru</text>
<text x="562" y="431.2" class="wm" filter="url(#gl)" opacity="0.6" stroke="#5c9ee8" stroke-width="1.2">avtochast.ru</text>
<text x="562" y="431.2" class="wm" stroke="#5c9ee8" stroke-width="0.6">avtochast.ru</text>
<text x="1091.5" y="812" class="wm" filter="url(#gl)" opacity="0.6" stroke="#5c9ee8" stroke-width="1.2">avtochast.ru</text>
<text x="1091.5" y="812" class="wm" stroke="#5c9ee8" stroke-width="0.6">avtochast.ru</text>
</g>
</svg>
</body></html>
